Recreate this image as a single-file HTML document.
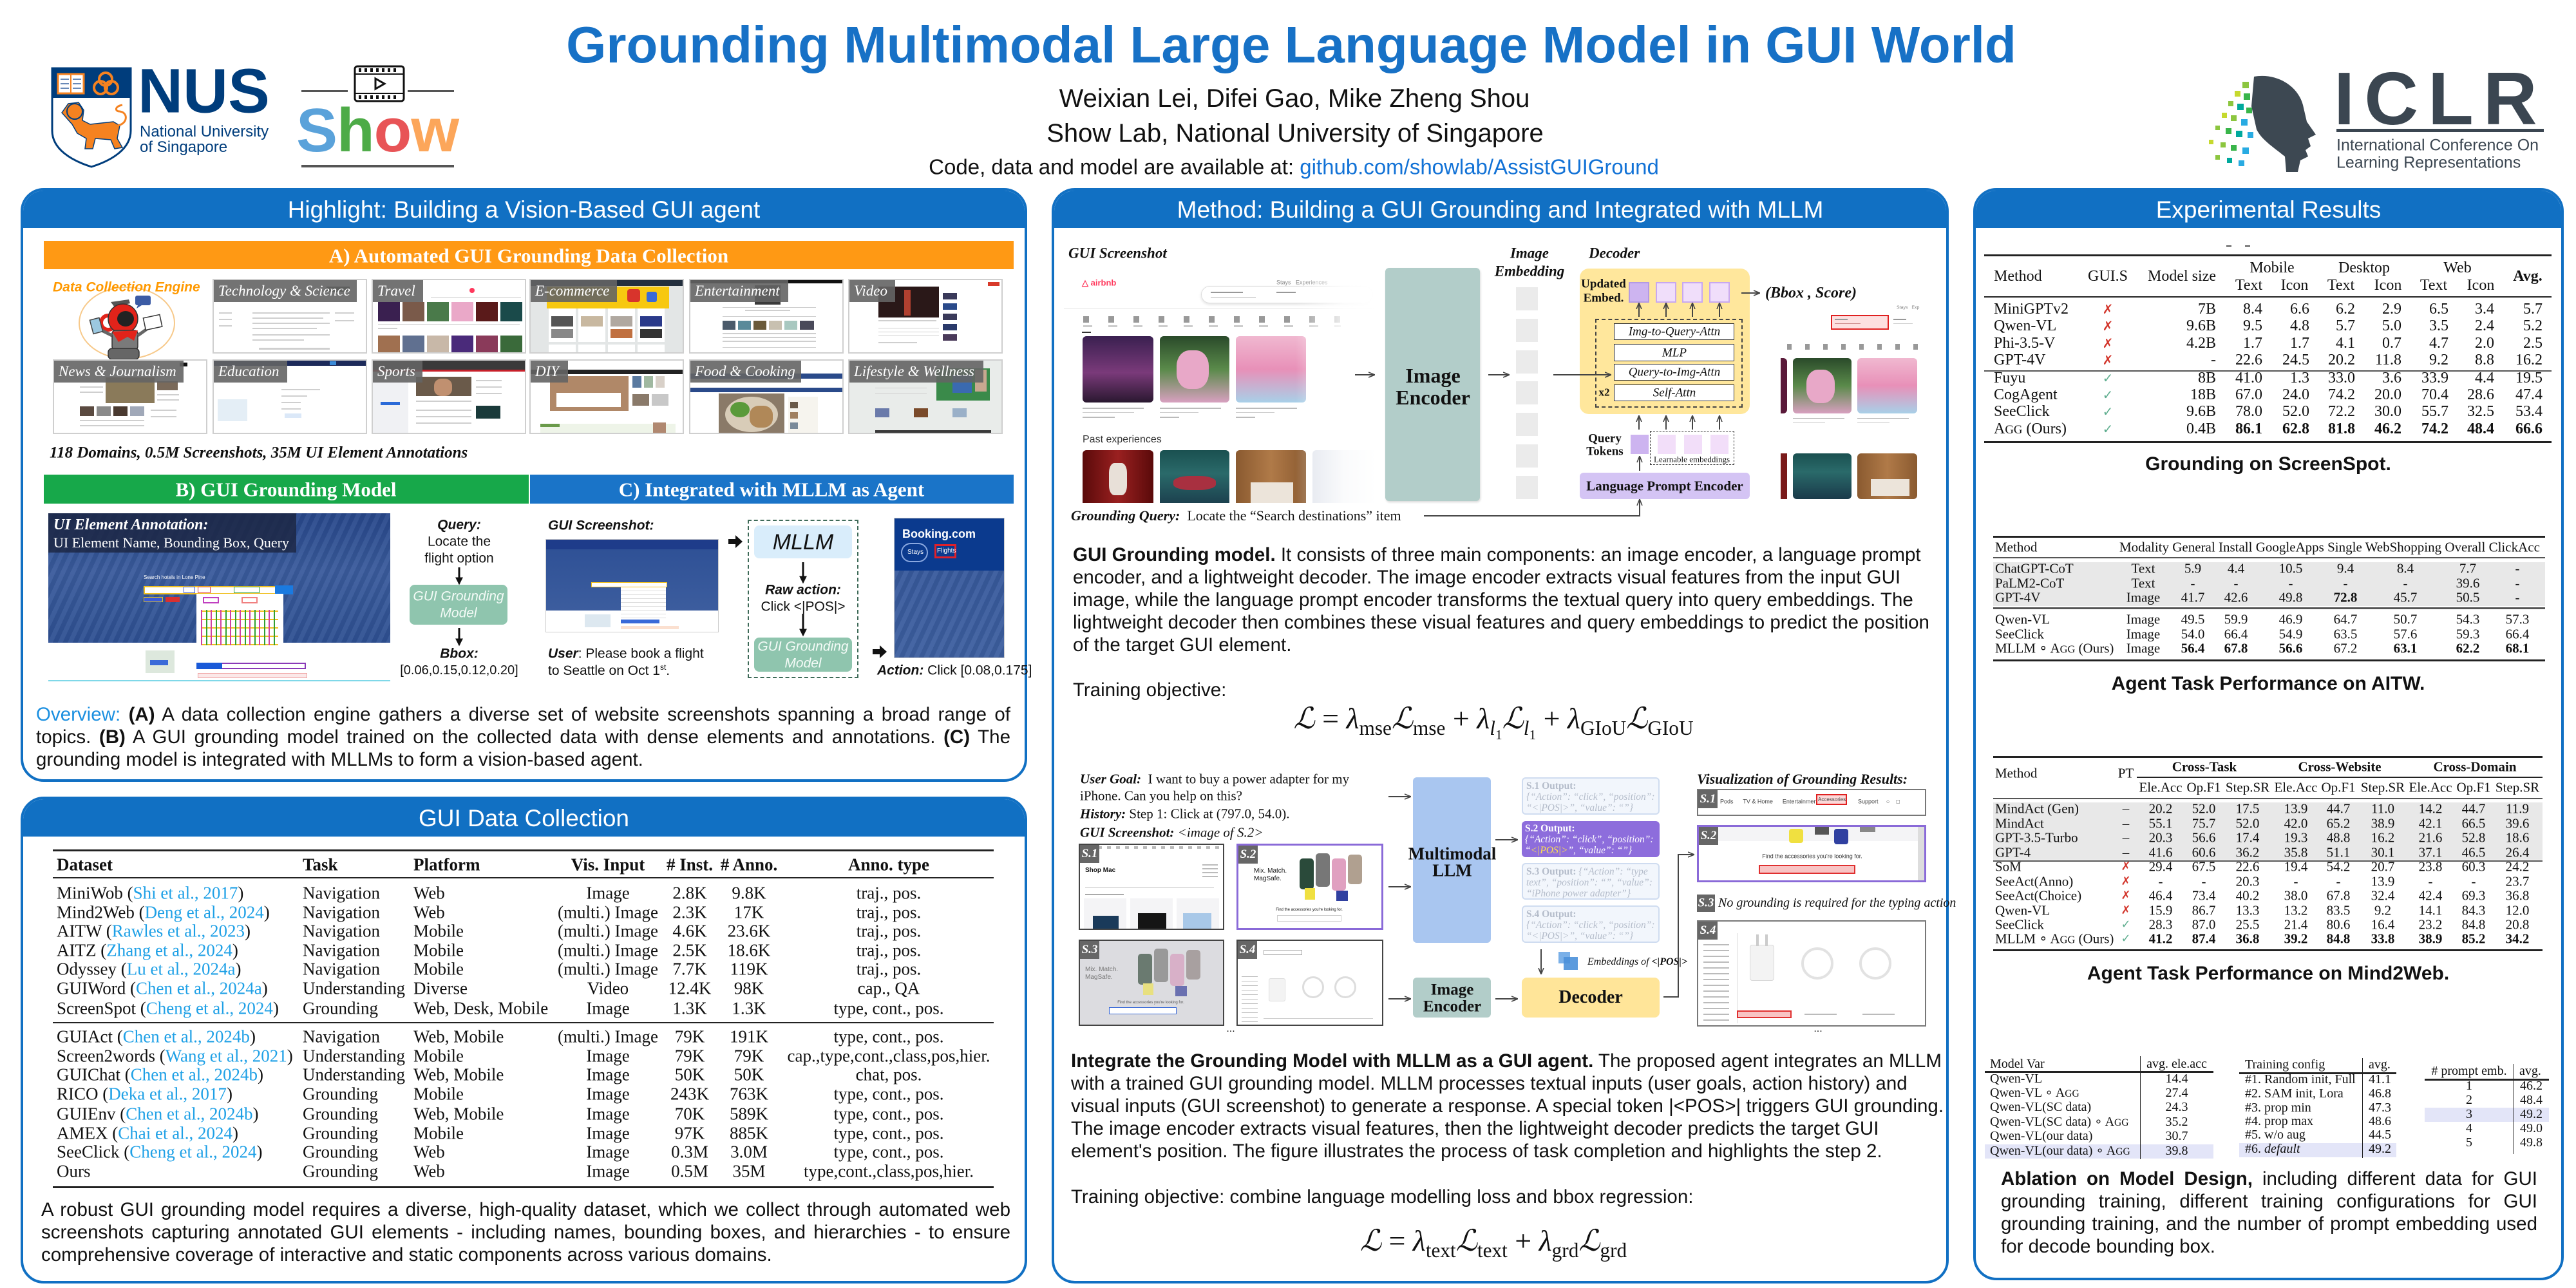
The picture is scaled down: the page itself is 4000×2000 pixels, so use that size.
<!DOCTYPE html>
<html><head><meta charset="utf-8">
<style>
*{box-sizing:border-box}
body{margin:0;width:4000px;height:2000px;position:relative;background:#fff;overflow:hidden;font-family:"Liberation Sans",Arial,sans-serif;color:#111}
.a{position:absolute}
.t{position:absolute;white-space:nowrap;line-height:1}
.c{transform:translate(-50%,-50%)}
.l{transform:translate(0,-50%)}
.r{transform:translate(-100%,-50%)}
.sf{font-family:"Liberation Serif","Times New Roman",serif}
.panel{position:absolute;border:4px solid #1170c3;border-radius:36px;overflow:hidden;background:#fff}
.ph{position:absolute;left:0;top:0;right:0;height:58px;background:#1170c3;color:#fff;font-size:37px;text-align:center;line-height:60px;white-space:nowrap}
.p{position:absolute;white-space:nowrap;font-size:29.5px;line-height:35px;height:35px}
.j{text-align:justify;text-align-last:justify}
.cite{color:#1ea0e6}
.th{position:absolute;background:#fff;border:2px solid #cfcfcf;overflow:hidden}
.lb{position:absolute;left:0;top:0;height:34px;background:rgba(100,100,100,.9);color:#fff;font:italic 23px/34px "Liberation Serif",serif;padding-left:7px;white-space:nowrap}
.b{position:absolute}
.ln{position:absolute;height:2px;background:#cfcfcf}
.rule{position:absolute;background:#222}
.rw{position:absolute;left:0;width:0;height:0}
.g{font-family:"Liberation Serif",serif;font-size:27px}
.s{font-family:"Liberation Serif",serif;font-size:24px}
.u{font-family:"Liberation Serif",serif;font-size:21px}
.v{font-family:"Liberation Serif",serif;font-size:20px}
.x{color:#d2352b;font-family:"DejaVu Sans",sans-serif;font-size:20px}
.ok{color:#5fae8f;font-family:"DejaVu Sans",sans-serif;font-size:20px}
.ob{position:absolute;border-radius:6px;padding:3px 5px;font-family:"Liberation Serif",serif;font-size:15.5px;line-height:17px;white-space:nowrap;overflow:hidden}
.sl{position:absolute;left:0;top:0;width:30px;height:28px;background:#666;color:#fff;font:italic bold 19px/28px "Liberation Serif",serif;text-align:center}
sub{font-size:.68em;vertical-align:-.32em;line-height:0}
</style></head><body>

<!-- ===== HEADER ===== -->
<div class="t c" style="left:2005px;top:70px;font-size:80px;font-weight:bold;color:#1771c6">Grounding Multimodal Large Language Model in GUI World</div>
<div class="t c" style="left:2010px;top:153px;font-size:40px;color:#111">Weixian Lei, Difei Gao, Mike Zheng Shou</div>
<div class="t c" style="left:2011px;top:207px;font-size:40px;color:#111">Show Lab, National University of Singapore</div>
<div class="t c" style="left:2009px;top:259px;font-size:33px;color:#111">Code, data and model are available at: <span style="color:#1272d6">github.com/showlab/AssistGUIGround</span></div>

<!-- NUS logo -->
<svg class="a" style="left:78px;top:103px" width="128" height="158" viewBox="0 0 128 158">
 <path d="M3,3 H125 V100 C125,128 96,146 64,156 C32,146 3,128 3,100 Z" fill="#fff" stroke="#003d7c" stroke-width="3"/>
 <rect x="3" y="3" width="122" height="46" fill="#003d7c"/>
 <rect x="12" y="12" width="40" height="30" fill="#fff" stroke="#f58220" stroke-width="3"/>
 <line x1="32" y1="12" x2="32" y2="42" stroke="#f58220" stroke-width="2"/>
 <g stroke="#6a8ab8" stroke-width="2"><line x1="16" y1="20" x2="29" y2="20"/><line x1="16" y1="27" x2="29" y2="27"/><line x1="16" y1="34" x2="29" y2="34"/><line x1="35" y1="20" x2="48" y2="20"/><line x1="35" y1="27" x2="48" y2="27"/><line x1="35" y1="34" x2="48" y2="34"/></g>
 <g fill="none" stroke="#f58220" stroke-width="4"><circle cx="86" cy="20" r="10"/><circle cx="78" cy="33" r="10"/><circle cx="95" cy="33" r="10"/></g>
 <path d="M18,72 L28,58 L44,56 L52,68 L50,84 L62,90 L98,86 L108,92 L104,112 L112,126 L100,128 L94,114 L70,112 L66,128 L54,128 L56,112 L42,104 L34,90 Z" fill="#f58220" stroke="#003d7c" stroke-width="1.5"/>
 <circle cx="38" cy="70" r="12" fill="#f58220" stroke="#003d7c" stroke-width="2"/>
 <path d="M104,92 C120,90 122,72 108,70 C100,70 100,62 112,60" fill="none" stroke="#f58220" stroke-width="3"/>
</svg>
<div class="t l" style="left:214px;top:141px;font-size:97px;font-weight:bold;color:#003d7c">NUS</div>
<div class="t l" style="left:217px;top:205px;font-size:24px;color:#003d7c">National University</div>
<div class="t l" style="left:217px;top:229px;font-size:24px;color:#003d7c">of Singapore</div>

<!-- Show logo -->
<div class="a" style="left:468px;top:140px;width:72px;height:3px;background:#555"></div>
<div class="a" style="left:633px;top:140px;width:72px;height:3px;background:#555"></div>
<svg class="a" style="left:549px;top:101px" width="80" height="58" viewBox="0 0 80 58">
 <rect x="2" y="2" width="76" height="54" rx="4" fill="#fff" stroke="#111" stroke-width="3"/>
 <line x1="2" y1="14" x2="78" y2="14" stroke="#111" stroke-width="2"/><line x1="2" y1="44" x2="78" y2="44" stroke="#111" stroke-width="2"/>
 <g fill="#111"><rect x="8" y="5" width="4" height="6"/><rect x="17" y="5" width="4" height="6"/><rect x="26" y="5" width="4" height="6"/><rect x="35" y="5" width="4" height="6"/><rect x="44" y="5" width="4" height="6"/><rect x="53" y="5" width="4" height="6"/><rect x="62" y="5" width="4" height="6"/><rect x="8" y="47" width="4" height="6"/><rect x="17" y="47" width="4" height="6"/><rect x="26" y="47" width="4" height="6"/><rect x="35" y="47" width="4" height="6"/><rect x="44" y="47" width="4" height="6"/><rect x="53" y="47" width="4" height="6"/><rect x="62" y="47" width="4" height="6"/></g>
 <path d="M34,21 L48,29 L34,37 Z" fill="none" stroke="#111" stroke-width="3"/>
</svg>
<div class="t l" style="left:460px;top:203px;font-size:96px;font-weight:bold;letter-spacing:-1px"><span style="color:#5aa2da">S</span><span style="color:#4dab47">h</span><span style="color:#e85457">o</span><span style="color:#fca65a">w</span></div>
<div class="a" style="left:468px;top:256px;width:237px;height:4px;background:#555"></div>

<!-- ICLR logo -->
<svg class="a" style="left:3400px;top:105px" width="215" height="165" viewBox="0 0 215 165">
 <path d="M100,14 C135,8 168,28 176,58 L182,84 L196,104 L184,110 L188,122 L180,128 L184,138 L172,144 L168,162 L150,162 L148,138 C128,122 112,112 104,96 L96,60 Z" fill="#3d4852"/>
 <g>
  <rect x="82" y="22" width="10" height="10" fill="#8cc63f"/><rect x="70" y="36" width="9" height="9" fill="#c6d92e"/><rect x="84" y="40" width="10" height="10" fill="#39b54a"/>
  <rect x="60" y="52" width="8" height="8" fill="#8cc63f"/><rect x="74" y="56" width="10" height="10" fill="#00a99d"/><rect x="88" y="62" width="9" height="9" fill="#39b54a"/>
  <rect x="50" y="70" width="8" height="8" fill="#c6d92e"/><rect x="64" y="74" width="9" height="9" fill="#8cc63f"/><rect x="80" y="80" width="10" height="10" fill="#29abe2"/>
  <rect x="40" y="90" width="7" height="7" fill="#8cc63f"/><rect x="56" y="94" width="9" height="9" fill="#39b54a"/><rect x="72" y="98" width="10" height="10" fill="#00a99d"/><rect x="90" y="100" width="9" height="9" fill="#29abe2"/>
  <rect x="30" y="112" width="7" height="7" fill="#c6d92e"/><rect x="48" y="116" width="8" height="8" fill="#8cc63f"/><rect x="64" y="120" width="9" height="9" fill="#39b54a"/><rect x="82" y="124" width="10" height="10" fill="#29abe2"/>
  <rect x="40" y="136" width="7" height="7" fill="#8cc63f"/><rect x="58" y="140" width="8" height="8" fill="#00a99d"/><rect x="76" y="144" width="9" height="9" fill="#29abe2"/>
 </g>
</svg>
<div class="t l" style="left:3624px;top:153px;font-size:116px;font-weight:bold;color:#3b4651;letter-spacing:15px">ICLR</div>
<div class="a" style="left:3628px;top:200px;width:322px;height:5px;background:#3b4651"></div>
<div class="t l" style="left:3628px;top:226px;font-size:25px;color:#3b4651">International Conference On</div>
<div class="t l" style="left:3628px;top:253px;font-size:25px;color:#3b4651">Learning Representations</div>

<!-- ===== PANEL FRAMES ===== -->
<div class="panel" style="left:32px;top:292px;width:1563px;height:922px"><div class="ph">Highlight: Building a Vision-Based GUI agent</div></div>
<div class="panel" style="left:32px;top:1237px;width:1563px;height:756px"><div class="ph">GUI Data Collection</div></div>
<div class="panel" style="left:1633px;top:292px;width:1393px;height:1701px"><div class="ph">Method: Building a GUI Grounding and Integrated with MLLM</div></div>
<div class="panel" style="left:3064px;top:292px;width:917px;height:1696px"><div class="ph">Experimental Results</div></div>

<!-- ===== PANEL 1 : Highlight ===== -->
<div class="a" style="left:68px;top:374px;width:1506px;height:44px;background:#ff9914"></div>
<div class="t c sf" style="left:821px;top:397px;font-size:31px;font-weight:bold;color:#fff">A) Automated GUI Grounding Data Collection</div>

<!-- data collection engine -->
<div class="a" style="left:122px;top:445px;width:150px;height:113px;border:2px solid #f7c98a;border-radius:50%"></div>
<div class="t l" style="left:82px;top:446px;font-size:21px;font-weight:bold;font-style:italic;color:#ff9900">Data Collection Engine</div>
<svg class="a" style="left:128px;top:455px" width="135" height="105" viewBox="0 0 135 105">
 <rect x="82" y="4" width="24" height="15" rx="3" fill="#3b5ba5"/><path d="M86,19 L84,24 L92,19Z" fill="#3b5ba5"/>
 <path d="M44,14 L72,10 L74,16 L50,22 Z" fill="#555"/>
 <circle cx="40" cy="46" r="11" fill="none" stroke="#e2231a" stroke-width="6"/>
 <circle cx="63" cy="40" r="23" fill="#e2231a" stroke="#333" stroke-width="1.5"/>
 <ellipse cx="67" cy="40" rx="13" ry="12" fill="#222"/>
 <rect x="46" y="58" width="40" height="30" rx="5" fill="#7a7a7a" stroke="#333" stroke-width="1.5"/>
 <path d="M46,60 L86,58 L80,74 L70,68 L56,76 Z" fill="#e2231a"/>
 <line x1="86" y1="66" x2="100" y2="56" stroke="#666" stroke-width="5"/>
 <rect x="96" y="36" width="26" height="19" fill="#fff" stroke="#333" stroke-width="1.5" transform="rotate(-12 109 45)"/>
 <line x1="46" y1="66" x2="30" y2="58" stroke="#666" stroke-width="5"/>
 <rect x="14" y="40" width="15" height="22" fill="#9cc8e0" stroke="#444" stroke-width="1.5" transform="rotate(-15 21 51)"/>
 <rect x="40" y="86" width="48" height="17" rx="6" fill="#666" stroke="#333" stroke-width="1.5"/>
</svg>

<!-- thumbnails row 1 -->
<div class="th" style="left:330px;top:433px;width:240px;height:116px">
 <div class="b" style="left:175px;top:10px;width:36px;height:8px;background:#2a3a2a"></div>
 <div class="ln" style="left:60px;top:50px;width:120px"></div><div class="ln" style="left:60px;top:58px;width:110px"></div><div class="ln" style="left:60px;top:66px;width:120px"></div><div class="ln" style="left:60px;top:74px;width:100px"></div><div class="ln" style="left:60px;top:84px;width:120px"></div><div class="ln" style="left:60px;top:92px;width:80px"></div><div class="ln" style="left:8px;top:50px;width:20px"></div><div class="ln" style="left:8px;top:60px;width:20px"></div><div class="ln" style="left:8px;top:70px;width:20px"></div><div class="ln" style="left:188px;top:50px;width:30px"></div><div class="ln" style="left:188px;top:62px;width:30px"></div><div class="ln" style="left:70px;top:105px;width:110px;height:3px"></div>
 <div class="lb" style="width:222px">Technology &amp; Science</div>
</div>
<div class="th" style="left:577px;top:433px;width:240px;height:116px">
 <div class="b" style="left:150px;top:12px;width:8px;height:8px;border-radius:50%;background:#ff385c"></div>
 <div class="ln" style="left:90px;top:26px;width:140px;height:1px"></div>
 <div class="b" style="left:8px;top:34px;width:34px;height:30px;background:#3a2050"></div><div class="b" style="left:46px;top:34px;width:34px;height:30px;background:#7a5a4a"></div><div class="b" style="left:84px;top:34px;width:34px;height:30px;background:#4a7a4a"></div><div class="b" style="left:122px;top:34px;width:34px;height:30px;background:#eaa8c8"></div><div class="b" style="left:160px;top:34px;width:34px;height:30px;background:#5a1a1a"></div><div class="b" style="left:198px;top:34px;width:34px;height:30px;background:#1a4a4a"></div>
 <div class="ln" style="left:8px;top:68px;width:220px;height:1px"></div><div class="ln" style="left:8px;top:74px;width:30px"></div>
 <div class="b" style="left:8px;top:86px;width:34px;height:30px;background:#a07050"></div><div class="b" style="left:46px;top:86px;width:34px;height:30px;background:#607090"></div><div class="b" style="left:84px;top:86px;width:34px;height:30px;background:#c8b8a8"></div><div class="b" style="left:122px;top:86px;width:34px;height:30px;background:#4a2a7a"></div><div class="b" style="left:160px;top:86px;width:34px;height:30px;background:#8a3a5a"></div><div class="b" style="left:198px;top:86px;width:34px;height:30px;background:#3a6a3a"></div>
 <div class="lb" style="width:78px">Travel</div>
</div>
<div class="th" style="left:822px;top:433px;width:240px;height:116px;background:#e3e6e6">
 <div class="b" style="left:0;top:0;width:240px;height:9px;background:#232f3e"></div>
 <div class="b" style="left:25px;top:10px;width:190px;height:34px;background:#f7c810"></div>
 <div class="b" style="left:150px;top:14px;width:20px;height:20px;background:#d8342c;border-radius:4px"></div><div class="b" style="left:180px;top:18px;width:16px;height:16px;background:#3a6ad8;border-radius:3px"></div>
 <div class="b" style="left:28px;top:44px;width:42px;height:52px;background:#fff"></div><div class="b" style="left:74px;top:44px;width:42px;height:52px;background:#fff"></div><div class="b" style="left:120px;top:44px;width:42px;height:52px;background:#fff"></div><div class="b" style="left:166px;top:44px;width:42px;height:52px;background:#fff"></div>
 <div class="b" style="left:32px;top:56px;width:34px;height:16px;background:#555"></div><div class="b" style="left:78px;top:56px;width:34px;height:16px;background:#c8b8a0"></div><div class="b" style="left:124px;top:56px;width:34px;height:16px;background:#b0a8a0"></div><div class="b" style="left:170px;top:56px;width:34px;height:16px;background:#2a3a8a"></div>
 <div class="b" style="left:32px;top:76px;width:34px;height:14px;background:#888"></div><div class="b" style="left:124px;top:76px;width:34px;height:14px;background:#c07040"></div><div class="b" style="left:170px;top:76px;width:34px;height:14px;background:#333"></div>
 <div class="b" style="left:28px;top:100px;width:42px;height:16px;background:#fff"></div><div class="b" style="left:74px;top:100px;width:42px;height:16px;background:#fff"></div><div class="b" style="left:120px;top:100px;width:42px;height:16px;background:#fff"></div><div class="b" style="left:166px;top:100px;width:42px;height:16px;background:#fff"></div>
 <div class="lb" style="width:134px">E-commerce</div>
</div>
<div class="th" style="left:1070px;top:433px;width:240px;height:116px">
 <div class="b" style="left:0;top:0;width:240px;height:5px;background:#111"></div>
 <div class="b" style="left:100px;top:8px;width:40px;height:30px;background:#3a3a3a"></div>
 <div class="ln" style="left:50px;top:42px;width:145px;height:1px"></div><div class="ln" style="left:50px;top:56px;width:145px;height:1px"></div><div class="ln" style="left:85px;top:46px;width:70px"></div>
 <div class="b" style="left:50px;top:63px;width:20px;height:14px;background:#4a5a6a"></div><div class="b" style="left:74px;top:63px;width:20px;height:14px;background:#5a8a9a"></div><div class="b" style="left:98px;top:63px;width:20px;height:14px;background:#6a5a3a"></div><div class="b" style="left:122px;top:63px;width:20px;height:14px;background:#c8c0b0"></div><div class="b" style="left:146px;top:63px;width:20px;height:14px;background:#a8c8c0"></div><div class="b" style="left:170px;top:63px;width:22px;height:14px;background:#4a4a5a"></div>
 <div class="ln" style="left:50px;top:82px;width:145px"></div><div class="ln" style="left:50px;top:88px;width:145px"></div><div class="ln" style="left:50px;top:94px;width:145px"></div><div class="ln" style="left:50px;top:104px;width:145px;height:1px"></div>
 <div class="lb" style="width:152px">Entertainment</div>
</div>
<div class="th" style="left:1317px;top:433px;width:240px;height:116px">
 <div class="b" style="left:45px;top:10px;width:94px;height:48px;background:#2a1818"></div><div class="b" style="left:85px;top:15px;width:10px;height:40px;background:#b04030"></div>
 <div class="b" style="left:145px;top:20px;width:22px;height:10px;background:#3a3a5a"></div><div class="b" style="left:145px;top:36px;width:22px;height:10px;background:#2a4a8a"></div><div class="b" style="left:145px;top:52px;width:22px;height:10px;background:#3a3a5a"></div><div class="b" style="left:145px;top:68px;width:22px;height:10px;background:#2a3a6a"></div><div class="b" style="left:145px;top:84px;width:22px;height:10px;background:#4a3a5a"></div>
 <div class="ln" style="left:45px;top:62px;width:90px"></div><div class="ln" style="left:45px;top:74px;width:94px;height:1px"></div><div class="ln" style="left:45px;top:80px;width:94px;height:1px"></div><div class="ln" style="left:45px;top:86px;width:94px;height:1px"></div><div class="ln" style="left:45px;top:96px;width:60px"></div>
 <div class="b" style="left:215px;top:3px;width:18px;height:6px;background:#d83a2a"></div>
 <div class="lb" style="width:71px">Video</div>
</div>
<!-- thumbnails row 2 -->
<div class="th" style="left:82px;top:558px;width:240px;height:116px">
 <div class="b" style="left:195px;top:3px;width:12px;height:6px;background:#111"></div>
 <div class="b" style="left:80px;top:26px;width:76px;height:40px;background:#8a7a5a"></div><div class="b" style="left:160px;top:32px;width:32px;height:14px;background:#7a6a5a"></div>
 <div class="ln" style="left:40px;top:40px;width:36px"></div><div class="ln" style="left:40px;top:48px;width:36px"></div><div class="ln" style="left:160px;top:52px;width:34px"></div><div class="ln" style="left:160px;top:60px;width:34px"></div>
 <div class="b" style="left:40px;top:71px;width:22px;height:15px;background:#5a4a40"></div><div class="b" style="left:66px;top:71px;width:22px;height:15px;background:#8a8a8a"></div><div class="b" style="left:92px;top:71px;width:22px;height:15px;background:#4a3a30"></div><div class="b" style="left:118px;top:71px;width:22px;height:15px;background:#a0a8b8"></div>
 <div class="ln" style="left:40px;top:92px;width:100px"></div><div class="ln" style="left:40px;top:100px;width:100px"></div><div class="ln" style="left:150px;top:76px;width:40px"></div><div class="ln" style="left:150px;top:86px;width:40px"></div>
 <div class="lb" style="width:201px">News &amp; Journalism</div>
</div>
<div class="th" style="left:330px;top:558px;width:240px;height:116px">
 <div class="b" style="left:0;top:0;width:240px;height:8px;background:#1c2a5a"></div><div class="b" style="left:180px;top:1px;width:10px;height:6px;background:#3a8ad8"></div>
 <div class="b" style="left:6px;top:60px;width:46px;height:34px;background:#e4eef6"></div>
 <div class="ln" style="left:105px;top:44px;width:60px"></div><div class="ln" style="left:105px;top:54px;width:40px"></div><div class="ln" style="left:105px;top:64px;width:30px"></div><div class="ln" style="left:105px;top:74px;width:30px"></div>
 <div class="b" style="left:110px;top:82px;width:26px;height:7px;background:#dbe8f8"></div>
 <div class="lb" style="width:114px">Education</div>
</div>
<div class="th" style="left:577px;top:558px;width:240px;height:116px">
 <div class="b" style="left:0;top:0;width:240px;height:14px;background:#3a3a3a"></div><div class="b" style="left:0;top:14px;width:240px;height:3px;background:#c8202a"></div>
 <div class="b" style="left:0;top:17px;width:55px;height:99px;background:#f0f1f4"></div>
 <div class="b" style="left:67px;top:25px;width:86px;height:30px;background:#6a5a4a"></div><div class="b" style="left:95px;top:28px;width:28px;height:27px;background:#c09070;border-radius:40%"></div>
 <div class="b" style="left:12px;top:64px;width:30px;height:5px;background:#2a6ad8"></div>
 <div class="ln" style="left:160px;top:30px;width:40px"></div><div class="ln" style="left:160px;top:40px;width:40px"></div><div class="ln" style="left:160px;top:50px;width:40px"></div><div class="ln" style="left:67px;top:62px;width:86px"></div><div class="ln" style="left:67px;top:76px;width:86px"></div><div class="ln" style="left:67px;top:86px;width:86px"></div><div class="ln" style="left:67px;top:96px;width:86px"></div>
 <div class="b" style="left:160px;top:70px;width:38px;height:20px;background:#1a3a3a"></div>
 <div class="lb" style="width:77px">Sports</div>
</div>
<div class="th" style="left:822px;top:558px;width:240px;height:116px">
 <div class="b" style="left:0;top:14px;width:240px;height:7px;background:#222"></div>
 <div class="b" style="left:30px;top:24px;width:122px;height:54px;background:#b08868"></div><div class="b" style="left:40px;top:50px;width:100px;height:22px;background:#fff"></div>
 <div class="b" style="left:158px;top:24px;width:14px;height:18px;background:#5a7aa0"></div><div class="b" style="left:176px;top:24px;width:14px;height:18px;background:#a0b8a0"></div><div class="b" style="left:194px;top:24px;width:14px;height:18px;background:#d8d0c8"></div><div class="b" style="left:158px;top:52px;width:26px;height:18px;background:#8a7a6a"></div><div class="b" style="left:188px;top:52px;width:26px;height:18px;background:#c8c8c8"></div>
 <div class="b" style="left:15px;top:98px;width:210px;height:14px;background:#eef4e8"></div><div class="b" style="left:15px;top:98px;width:30px;height:5px;background:#6a9a4a"></div><div class="b" style="left:190px;top:96px;width:20px;height:18px;background:#b08870"></div>
 <div class="lb" style="width:58px">DIY</div>
</div>
<div class="th" style="left:1070px;top:558px;width:240px;height:116px">
 <div class="b" style="left:0;top:20px;width:240px;height:8px;background:#2a4a8a"></div>
 <div class="b" style="left:0;top:42px;width:240px;height:7px;background:#2a4a8a"></div>
 <div class="b" style="left:44px;top:51px;width:102px;height:63px;background:#8a7a68"></div><div class="b" style="left:54px;top:56px;width:82px;height:55px;background:#d8ccb8;border-radius:50%"></div><div class="b" style="left:62px;top:64px;width:30px;height:24px;background:#5a9a3a;border-radius:50%"></div><div class="b" style="left:92px;top:70px;width:36px;height:34px;background:#b08858;border-radius:40%"></div>
 <div class="b" style="left:152px;top:56px;width:46px;height:58px;background:#f6f4ee"></div><div class="b" style="left:155px;top:64px;width:12px;height:10px;background:#6a5a4a"></div><div class="b" style="left:155px;top:80px;width:12px;height:10px;background:#a08060"></div><div class="b" style="left:155px;top:96px;width:12px;height:10px;background:#7a8a9a"></div>
 <div class="lb" style="width:172px">Food &amp; Cooking</div>
</div>
<div class="th" style="left:1317px;top:558px;width:240px;height:116px;background:#e9ecea">
 <div class="b" style="left:135px;top:12px;width:83px;height:50px;background:#3a8a4a"></div><div class="b" style="left:160px;top:22px;width:30px;height:28px;background:#3a6ab0"></div><div class="b" style="left:195px;top:14px;width:18px;height:34px;background:#c8a890"></div>
 <div class="ln" style="left:40px;top:42px;width:80px;height:1px"></div><div class="ln" style="left:40px;top:50px;width:80px;height:1px"></div>
 <div class="b" style="left:40px;top:74px;width:22px;height:14px;background:#6a7aaa"></div><div class="b" style="left:100px;top:74px;width:22px;height:14px;background:#7a4a2a"></div><div class="b" style="left:160px;top:74px;width:22px;height:14px;background:#9ab0c8"></div>
 <div class="b" style="left:40px;top:108px;width:180px;height:8px;background:#3a3a3a"></div>
 <div class="lb" style="width:208px">Lifestyle &amp; Wellness</div>
</div>

<div class="t l sf" style="left:77px;top:703px;font-size:25px;font-weight:bold;font-style:italic">118 Domains, 0.5M Screenshots, 35M UI Element Annotations</div>

<!-- B / C bars -->
<div class="a" style="left:68px;top:737px;width:753px;height:45px;background:#17a84a"></div>
<div class="t c sf" style="left:444px;top:760px;font-size:31px;font-weight:bold;color:#fff">B) GUI Grounding Model</div>
<div class="a" style="left:823px;top:737px;width:751px;height:45px;background:#1a74c8"></div>
<div class="t c sf" style="left:1198px;top:760px;font-size:31px;font-weight:bold;color:#fff">C) Integrated with MLLM as Agent</div>

<!-- B image -->
<div class="a" style="left:75px;top:797px;width:531px;height:261px;background:#fff;overflow:hidden;border-bottom:2px solid #7fd8e8">
 <div class="b" style="left:0;top:0;width:531px;height:201px;background:linear-gradient(180deg,#27478a 0%,#3a5b9c 45%,#2e5092 100%)"></div>
 <div class="b" style="left:0;top:0;width:531px;height:201px;background:repeating-linear-gradient(115deg,rgba(255,255,255,.05) 0 7px,rgba(0,0,0,.05) 7px 14px)"></div>
 <div class="t l" style="left:148px;top:100px;font-size:8px;color:#fff">Search hotels in Lone Pine</div>
 <div class="b" style="left:148px;top:113px;width:232px;height:13px;background:#fff;border:2px solid #f0c020"></div>
 <div class="b" style="left:210px;top:114px;width:18px;height:10px;border:1px solid #3a5ad8"></div><div class="b" style="left:232px;top:114px;width:20px;height:10px;border:1px solid #e04040"></div><div class="b" style="left:288px;top:114px;width:40px;height:10px;border:1px solid #30a040"></div><div class="b" style="left:352px;top:112px;width:28px;height:14px;background:#1a7ae0"></div>
 <div class="b" style="left:148px;top:130px;width:30px;height:8px;border:1px solid #e0c020;background:#3a5ad8"></div><div class="b" style="left:182px;top:130px;width:22px;height:8px;background:#d83030"></div>
 <div class="b" style="left:230px;top:125px;width:135px;height:136px;background:#fff"></div>
 <div class="b" style="left:237px;top:150px;width:120px;height:55px;background:repeating-linear-gradient(90deg,#d040a0 0 2px,transparent 2px 8px,#30a030 8px 10px,transparent 10px 15px),repeating-linear-gradient(0deg,#f0c020 0 2px,#fff 2px 13px)"></div>
 <div class="b" style="left:240px;top:130px;width:25px;height:10px;border:2px solid #c040c0"></div><div class="b" style="left:300px;top:130px;width:25px;height:10px;border:2px solid #f08080"></div>
 <div class="b" style="left:151px;top:213px;width:45px;height:35px;background:#dde8dd"></div><div class="b" style="left:158px;top:228px;width:28px;height:8px;background:#3a6ad8"></div>
 <div class="b" style="left:230px;top:232px;width:170px;height:10px;border:2px solid #8a3ab8"></div><div class="b" style="left:230px;top:232px;width:40px;height:10px;background:#1a5ad8"></div>
 <div class="b" style="left:232px;top:248px;width:170px;height:8px;background:#fbe8e8;border:1px solid #f0a0a0"></div>
 <div class="b" style="left:0;top:0;width:385px;height:61px;background:rgba(28,38,66,.82)"></div>
 <div class="t l sf" style="left:8px;top:18px;font-size:24px;font-weight:bold;font-style:italic;color:#fff">UI Element Annotation:</div>
 <div class="t l sf" style="left:8px;top:46px;font-size:22px;color:#fff">UI Element Name, Bounding Box, Query</div>
</div>

<!-- B query column -->
<div class="t c" style="left:713px;top:815px;font-size:21px;font-weight:bold;font-style:italic">Query:</div>
<div class="t c" style="left:713px;top:841px;font-size:21px">Locate the</div>
<div class="t c" style="left:713px;top:867px;font-size:21px">flight option</div>
<div class="a" style="left:636px;top:908px;width:152px;height:62px;background:#8fc5ae;border-radius:8px"></div>
<div class="t c" style="left:712px;top:926px;font-size:21px;font-style:italic;color:#f4fbf7">GUI Grounding</div>
<div class="t c" style="left:712px;top:952px;font-size:21px;font-style:italic;color:#f4fbf7">Model</div>
<div class="t c" style="left:713px;top:1015px;font-size:21px;font-weight:bold;font-style:italic">Bbox:</div>
<div class="t c" style="left:713px;top:1041px;font-size:20px">[0.06,0.15,0.12,0.20]</div>

<!-- C section -->
<div class="t l" style="left:851px;top:816px;font-size:21px;font-weight:bold;font-style:italic">GUI Screenshot:</div>
<div class="a" style="left:847px;top:837px;width:269px;height:145px;background:#fff;border:1px solid #ccc;overflow:hidden">
 <div class="b" style="left:0;top:0;width:269px;height:15px;background:#1e3c8a"></div>
 <div class="b" style="left:0;top:15px;width:269px;height:95px;background:linear-gradient(180deg,#2f5196,#3c5d9e)"></div>
 <div class="b" style="left:70px;top:66px;width:118px;height:8px;background:#fff;border:1px solid #f0c020"></div>
 <div class="b" style="left:116px;top:74px;width:70px;height:48px;background:#fff;background-image:repeating-linear-gradient(0deg,#ddd 0 1px,transparent 1px 6px)"></div>
 <div class="b" style="left:60px;top:116px;width:40px;height:20px;background:#dde8f0"></div>
 <div class="b" style="left:116px;top:124px;width:60px;height:6px;background:#3a6ad8"></div>
 <div class="b" style="left:116px;top:134px;width:90px;height:5px;background:#fbe0d0"></div>
</div>
<div class="t l" style="left:851px;top:1015px;font-size:21px"><b><i>User</i></b>: Please book a flight</div>
<div class="t l" style="left:851px;top:1041px;font-size:21px">to Seattle on Oct 1<sup style="font-size:12px">st</sup>.</div>
<div class="a" style="left:1161px;top:807px;width:172px;height:246px;border:2px dashed #3e6a58"></div>
<div class="a" style="left:1171px;top:816px;width:152px;height:51px;background:#d9edfb;border-radius:8px"></div>
<div class="t c" style="left:1247px;top:842px;font-size:34px;font-style:italic">MLLM</div>
<div class="t c" style="left:1247px;top:916px;font-size:21px;font-weight:bold;font-style:italic">Raw action:</div>
<div class="t c" style="left:1247px;top:942px;font-size:21px">Click &lt;|POS|&gt;</div>
<div class="a" style="left:1171px;top:990px;width:152px;height:53px;background:#8fc5ae;border-radius:8px"></div>
<div class="t c" style="left:1247px;top:1004px;font-size:21px;font-style:italic;color:#f4fbf7">GUI Grounding</div>
<div class="t c" style="left:1247px;top:1030px;font-size:21px;font-style:italic;color:#f4fbf7">Model</div>
<div class="a" style="left:1388px;top:804px;width:172px;height:218px;overflow:hidden;background:linear-gradient(180deg,#34569a,#3d5f9f);border:1px solid #ccc">
 <div class="b" style="left:0;top:0;width:172px;height:81px;background:#0b3a8e"></div>
 <div class="t l" style="left:12px;top:24px;font-size:18px;font-weight:bold;color:#fff">Booking.com</div>
 <div class="b" style="left:10px;top:38px;width:42px;height:30px;border:2px solid #8aa8e0;border-radius:15px"></div>
 <div class="t l" style="left:20px;top:53px;font-size:10px;color:#fff">Stays</div>
 <div class="b" style="left:62px;top:40px;width:34px;height:22px;border:3px solid #e0202a"></div>
 <div class="t l" style="left:66px;top:51px;font-size:10px;color:#fff">Flights</div>
 <div class="b" style="left:0;top:81px;width:172px;height:137px;background:repeating-linear-gradient(115deg,rgba(255,255,255,.05) 0 7px,rgba(0,0,0,.05) 7px 14px)"></div>
</div>
<div class="t l" style="left:1362px;top:1041px;font-size:21px"><b><i>Action:</i></b> Click [0.08,0.175]</div>

<!-- overview -->
<div class="p j" style="left:56px;top:1092px;width:1513px"><span style="color:#1a8fe0">Overview:</span> <b>(A)</b> A data collection engine gathers a diverse set of website screenshots spanning a broad range of</div>
<div class="p j" style="left:56px;top:1127px;width:1513px">topics. <b>(B)</b> A GUI grounding model trained on the collected data with dense elements and annotations. <b>(C)</b> The</div>
<div class="p" style="left:56px;top:1162px">grounding model is integrated with MLLMs to form a vision-based agent.</div>

<!-- ===== PANEL 1b: GUI Data Collection table ===== -->
<div class="rule" style="left:82px;top:1319px;width:1461px;height:3px"></div>
<div class="rule" style="left:82px;top:1362px;width:1461px;height:2px"></div>
<div class="rule" style="left:82px;top:1587px;width:1461px;height:2px"></div>
<div class="rule" style="left:82px;top:1842px;width:1461px;height:3px"></div>
<div class="rw" style="top:1343px;font-weight:bold">
 <span class="t l g" style="left:88px">Dataset</span><span class="t l g" style="left:470px">Task</span><span class="t l g" style="left:642px">Platform</span><span class="t c g" style="left:944px">Vis. Input</span><span class="t c g" style="left:1071px"># Inst.</span><span class="t c g" style="left:1163px"># Anno.</span><span class="t c g" style="left:1380px">Anno. type</span>
</div>
<div class="rw" style="top:1387px"><span class="t l g" style="left:88px">MiniWob (<span class="cite">Shi et al., 2017</span>)</span><span class="t l g" style="left:470px">Navigation</span><span class="t l g" style="left:642px">Web</span><span class="t c g" style="left:944px">Image</span><span class="t c g" style="left:1071px">2.8K</span><span class="t c g" style="left:1163px">9.8K</span><span class="t c g" style="left:1380px">traj., pos.</span></div>
<div class="rw" style="top:1417px"><span class="t l g" style="left:88px">Mind2Web (<span class="cite">Deng et al., 2024</span>)</span><span class="t l g" style="left:470px">Navigation</span><span class="t l g" style="left:642px">Web</span><span class="t c g" style="left:944px">(multi.) Image</span><span class="t c g" style="left:1071px">2.3K</span><span class="t c g" style="left:1163px">17K</span><span class="t c g" style="left:1380px">traj., pos.</span></div>
<div class="rw" style="top:1446px"><span class="t l g" style="left:88px">AITW (<span class="cite">Rawles et al., 2023</span>)</span><span class="t l g" style="left:470px">Navigation</span><span class="t l g" style="left:642px">Mobile</span><span class="t c g" style="left:944px">(multi.) Image</span><span class="t c g" style="left:1071px">4.6K</span><span class="t c g" style="left:1163px">23.6K</span><span class="t c g" style="left:1380px">traj., pos.</span></div>
<div class="rw" style="top:1476px"><span class="t l g" style="left:88px">AITZ (<span class="cite">Zhang et al., 2024</span>)</span><span class="t l g" style="left:470px">Navigation</span><span class="t l g" style="left:642px">Mobile</span><span class="t c g" style="left:944px">(multi.) Image</span><span class="t c g" style="left:1071px">2.5K</span><span class="t c g" style="left:1163px">18.6K</span><span class="t c g" style="left:1380px">traj., pos.</span></div>
<div class="rw" style="top:1505px"><span class="t l g" style="left:88px">Odyssey (<span class="cite">Lu et al., 2024a</span>)</span><span class="t l g" style="left:470px">Navigation</span><span class="t l g" style="left:642px">Mobile</span><span class="t c g" style="left:944px">(multi.) Image</span><span class="t c g" style="left:1071px">7.7K</span><span class="t c g" style="left:1163px">119K</span><span class="t c g" style="left:1380px">traj., pos.</span></div>
<div class="rw" style="top:1535px"><span class="t l g" style="left:88px">GUIWord (<span class="cite">Chen et al., 2024a</span>)</span><span class="t l g" style="left:470px">Understanding</span><span class="t l g" style="left:642px">Diverse</span><span class="t c g" style="left:944px">Video</span><span class="t c g" style="left:1071px">12.4K</span><span class="t c g" style="left:1163px">98K</span><span class="t c g" style="left:1380px">cap., QA</span></div>
<div class="rw" style="top:1566px"><span class="t l g" style="left:88px">ScreenSpot (<span class="cite">Cheng et al., 2024</span>)</span><span class="t l g" style="left:470px">Grounding</span><span class="t l g" style="left:642px">Web, Desk, Mobile</span><span class="t c g" style="left:944px">Image</span><span class="t c g" style="left:1071px">1.3K</span><span class="t c g" style="left:1163px">1.3K</span><span class="t c g" style="left:1380px">type, cont., pos.</span></div>
<div class="rw" style="top:1610px"><span class="t l g" style="left:88px">GUIAct (<span class="cite">Chen et al., 2024b</span>)</span><span class="t l g" style="left:470px">Navigation</span><span class="t l g" style="left:642px">Web, Mobile</span><span class="t c g" style="left:944px">(multi.) Image</span><span class="t c g" style="left:1071px">79K</span><span class="t c g" style="left:1163px">191K</span><span class="t c g" style="left:1380px">type, cont., pos.</span></div>
<div class="rw" style="top:1640px"><span class="t l g" style="left:88px">Screen2words (<span class="cite">Wang et al., 2021</span>)</span><span class="t l g" style="left:470px">Understanding</span><span class="t l g" style="left:642px">Mobile</span><span class="t c g" style="left:944px">Image</span><span class="t c g" style="left:1071px">79K</span><span class="t c g" style="left:1163px">79K</span><span class="t c g" style="left:1380px">cap.,type,cont.,class,pos,hier.</span></div>
<div class="rw" style="top:1669px"><span class="t l g" style="left:88px">GUIChat (<span class="cite">Chen et al., 2024b</span>)</span><span class="t l g" style="left:470px">Understanding</span><span class="t l g" style="left:642px">Web, Mobile</span><span class="t c g" style="left:944px">Image</span><span class="t c g" style="left:1071px">50K</span><span class="t c g" style="left:1163px">50K</span><span class="t c g" style="left:1380px">chat, pos.</span></div>
<div class="rw" style="top:1699px"><span class="t l g" style="left:88px">RICO (<span class="cite">Deka et al., 2017</span>)</span><span class="t l g" style="left:470px">Grounding</span><span class="t l g" style="left:642px">Mobile</span><span class="t c g" style="left:944px">Image</span><span class="t c g" style="left:1071px">243K</span><span class="t c g" style="left:1163px">763K</span><span class="t c g" style="left:1380px">type, cont., pos.</span></div>
<div class="rw" style="top:1730px"><span class="t l g" style="left:88px">GUIEnv (<span class="cite">Chen et al., 2024b</span>)</span><span class="t l g" style="left:470px">Grounding</span><span class="t l g" style="left:642px">Web, Mobile</span><span class="t c g" style="left:944px">Image</span><span class="t c g" style="left:1071px">70K</span><span class="t c g" style="left:1163px">589K</span><span class="t c g" style="left:1380px">type, cont., pos.</span></div>
<div class="rw" style="top:1760px"><span class="t l g" style="left:88px">AMEX (<span class="cite">Chai et al., 2024</span>)</span><span class="t l g" style="left:470px">Grounding</span><span class="t l g" style="left:642px">Mobile</span><span class="t c g" style="left:944px">Image</span><span class="t c g" style="left:1071px">97K</span><span class="t c g" style="left:1163px">885K</span><span class="t c g" style="left:1380px">type, cont., pos.</span></div>
<div class="rw" style="top:1789px"><span class="t l g" style="left:88px">SeeClick (<span class="cite">Cheng et al., 2024</span>)</span><span class="t l g" style="left:470px">Grounding</span><span class="t l g" style="left:642px">Web</span><span class="t c g" style="left:944px">Image</span><span class="t c g" style="left:1071px">0.3M</span><span class="t c g" style="left:1163px">3.0M</span><span class="t c g" style="left:1380px">type, cont., pos.</span></div>
<div class="rw" style="top:1819px"><span class="t l g" style="left:88px">Ours</span><span class="t l g" style="left:470px">Grounding</span><span class="t l g" style="left:642px">Web</span><span class="t c g" style="left:944px">Image</span><span class="t c g" style="left:1071px">0.5M</span><span class="t c g" style="left:1163px">35M</span><span class="t c g" style="left:1380px">type,cont.,class,pos,hier.</span></div>

<div class="p j" style="left:64px;top:1861px;width:1505px">A robust GUI grounding model requires a diverse, high-quality dataset, which we collect through automated web</div>
<div class="p j" style="left:64px;top:1896px;width:1505px">screenshots capturing annotated GUI elements - including names, bounding boxes, and hierarchies - to ensure</div>
<div class="p" style="left:64px;top:1931px">comprehensive coverage of interactive and static components across various domains.</div>

<!-- ===== PANEL 2: Method ===== -->
<div class="t l sf" style="left:1659px;top:393px;font-size:23px;font-weight:bold;font-style:italic">GUI Screenshot</div>
<!-- airbnb screenshot -->
<div class="a" style="left:1652px;top:419px;width:485px;height:362px;overflow:hidden;background:#fff">
 <div class="t l" style="left:28px;top:20px;font-size:13px;color:#ff385c;font-weight:bold">&#9651; airbnb</div>
 <div class="t l" style="left:330px;top:20px;font-size:9px;color:#888">Stays &nbsp; Experiences</div>
 <div class="b" style="left:213px;top:25px;width:267px;height:27px;border:1px solid #ddd;border-radius:14px;box-shadow:0 2px 4px rgba(0,0,0,.12)"></div>
 <div class="ln" style="left:228px;top:34px;width:50px;height:2px;background:#999"></div><div class="ln" style="left:228px;top:42px;width:70px;height:1px;background:#bbb"></div><div class="ln" style="left:330px;top:34px;width:30px;height:2px;background:#999"></div>
 <div class="b" style="left:0;top:60px;width:485px;height:1px;background:#e6e6e6"></div>
 <div class="b" style="left:30px;top:72px;width:400px;height:10px;background:repeating-linear-gradient(90deg,#999 0 9px,transparent 9px 39px)"></div>
 <div class="b" style="left:30px;top:86px;width:400px;height:3px;background:repeating-linear-gradient(90deg,#ccc 0 14px,transparent 14px 39px)"></div>
 <div class="b" style="left:28px;top:96px;width:14px;height:2px;background:#333"></div>
 <div class="b" style="left:29px;top:103px;width:110px;height:103px;border-radius:6px;background:linear-gradient(180deg,#3a2050,#7a3a7a 55%,#2a1830)"></div>
 <div class="b" style="left:149px;top:103px;width:108px;height:103px;border-radius:6px;background:linear-gradient(180deg,#2a4a2a,#5a8a4a 50%,#d8a0c0)"></div>
 <div class="b" style="left:175px;top:125px;width:50px;height:60px;border-radius:40%;background:#e8a8c8"></div>
 <div class="b" style="left:267px;top:103px;width:109px;height:103px;border-radius:6px;background:linear-gradient(180deg,#f0b8d0,#e890b8 50%,#a8d0e8)"></div>
 <div class="ln" style="left:29px;top:214px;width:95px;height:2px;background:#bbb"></div><div class="ln" style="left:29px;top:221px;width:80px;height:1px"></div><div class="ln" style="left:29px;top:228px;width:50px;height:2px;background:#bbb"></div>
 <div class="ln" style="left:149px;top:214px;width:95px;height:2px;background:#bbb"></div><div class="ln" style="left:149px;top:221px;width:60px;height:1px"></div><div class="ln" style="left:149px;top:228px;width:30px;height:2px;background:#bbb"></div>
 <div class="ln" style="left:267px;top:214px;width:95px;height:2px;background:#bbb"></div><div class="ln" style="left:267px;top:221px;width:60px;height:1px"></div><div class="ln" style="left:267px;top:228px;width:30px;height:2px;background:#bbb"></div>
 <div class="t l" style="left:29px;top:264px;font-size:16px;color:#333">Past experiences</div>
 <div class="b" style="left:29px;top:280px;width:110px;height:90px;border-radius:6px;background:linear-gradient(90deg,#5a0a0a,#9a2020 50%,#5a0a0a)"></div><div class="b" style="left:70px;top:300px;width:28px;height:50px;background:#e8e0d8;border-radius:30%"></div>
 <div class="b" style="left:149px;top:280px;width:108px;height:90px;border-radius:6px;background:linear-gradient(180deg,#1a5050,#2a6a6a 40%,#1a3a4a)"></div><div class="b" style="left:170px;top:320px;width:66px;height:22px;background:#a83040;border-radius:40%"></div>
 <div class="b" style="left:267px;top:280px;width:109px;height:90px;border-radius:6px;background:linear-gradient(90deg,#8a5a30,#b07a48,#8a5a30)"></div><div class="b" style="left:290px;top:330px;width:66px;height:32px;background:#ece4da"></div>
 <div class="b" style="left:386px;top:280px;width:109px;height:90px;border-radius:6px;background:#dfe3ec"></div>
 <div class="b" style="left:360px;top:0;width:125px;height:362px;background:linear-gradient(90deg,rgba(255,255,255,0),rgba(255,255,255,.85) 60%,#fff)"></div>
</div>

<div class="a" style="left:2151px;top:416px;width:147px;height:362px;background:#b2cdc9;border-radius:6px;box-shadow:1px 2px 3px rgba(0,0,0,.15)"></div>
<div class="t c sf" style="left:2225px;top:583px;font-size:32px;font-weight:bold">Image</div>
<div class="t c sf" style="left:2225px;top:617px;font-size:32px;font-weight:bold">Encoder</div>
<div class="t c sf" style="left:2375px;top:393px;font-size:23px;font-weight:bold;font-style:italic">Image</div>
<div class="t c sf" style="left:2375px;top:421px;font-size:23px;font-weight:bold;font-style:italic">Embedding</div>
<div class="a" style="left:2354px;top:446px;width:34px;height:36px;background:#ebebeb"></div>
<div class="a" style="left:2354px;top:495px;width:34px;height:36px;background:#ebebeb"></div>
<div class="a" style="left:2354px;top:544px;width:34px;height:36px;background:#ebebeb"></div>
<div class="a" style="left:2354px;top:592px;width:34px;height:36px;background:#ebebeb"></div>
<div class="a" style="left:2354px;top:641px;width:34px;height:36px;background:#ebebeb"></div>
<div class="a" style="left:2354px;top:690px;width:34px;height:36px;background:#ebebeb"></div>
<div class="a" style="left:2354px;top:739px;width:34px;height:36px;background:#ebebeb"></div>
<div class="t l sf" style="left:2467px;top:393px;font-size:23px;font-weight:bold;font-style:italic">Decoder</div>
<div class="a" style="left:2453px;top:417px;width:264px;height:226px;background:#ffe79c;border-radius:14px"></div>
<div class="t c sf" style="left:2490px;top:441px;font-size:19px;font-weight:bold">Updated</div>
<div class="t c sf" style="left:2490px;top:463px;font-size:19px;font-weight:bold">Embed.</div>
<div class="a" style="left:2529px;top:438px;width:32px;height:32px;background:#cdb4f0;border:2px solid #b49ae4"></div>
<div class="a" style="left:2571px;top:438px;width:32px;height:32px;background:#f0defa;border:2px solid #c8a8f0"></div>
<div class="a" style="left:2612px;top:438px;width:32px;height:32px;background:#f0defa;border:2px solid #c8a8f0"></div>
<div class="a" style="left:2654px;top:438px;width:32px;height:32px;background:#f0defa;border:2px solid #c8a8f0"></div>
<div class="t l sf" style="left:2741px;top:455px;font-size:24px;font-weight:bold;font-style:italic">(Bbox , Score)</div>
<div class="a" style="left:2477px;top:495px;width:229px;height:138px;border:2px dashed #444"></div>
<div class="a" style="left:2506px;top:502px;width:187px;height:26px;background:#fff;border:1.5px solid #333"></div>
<div class="a" style="left:2506px;top:534px;width:187px;height:27px;background:#fff;border:1.5px solid #333"></div>
<div class="a" style="left:2506px;top:565px;width:187px;height:26px;background:#fff;border:1.5px solid #333"></div>
<div class="a" style="left:2506px;top:597px;width:187px;height:26px;background:#fff;border:1.5px solid #333"></div>
<div class="t c sf" style="left:2600px;top:515px;font-size:19px;font-style:italic">Img-to-Query-Attn</div>
<div class="t c sf" style="left:2600px;top:548px;font-size:19px;font-style:italic">MLP</div>
<div class="t c sf" style="left:2600px;top:578px;font-size:19px;font-style:italic">Query-to-Img-Attn</div>
<div class="t c sf" style="left:2600px;top:610px;font-size:19px;font-style:italic">Self-Attn</div>
<div class="t c sf" style="left:2491px;top:609px;font-size:17px;font-weight:bold">x2</div>
<div class="t c sf" style="left:2492px;top:681px;font-size:19px;font-weight:bold">Query</div>
<div class="t c sf" style="left:2492px;top:701px;font-size:19px;font-weight:bold">Tokens</div>
<div class="a" style="left:2532px;top:675px;width:28px;height:30px;background:#cdb4f0"></div>
<div class="a" style="left:2562px;top:669px;width:131px;height:53px;border:1.5px dashed #333"></div>
<div class="a" style="left:2574px;top:675px;width:28px;height:30px;background:#f2def9"></div>
<div class="a" style="left:2615px;top:675px;width:28px;height:30px;background:#f2def9"></div>
<div class="a" style="left:2656px;top:675px;width:28px;height:30px;background:#f2def9"></div>
<div class="t c sf" style="left:2627px;top:713px;font-size:13px">Learnable embeddings</div>
<div class="a" style="left:2453px;top:734px;width:264px;height:41px;background:#d4c4f4;border-radius:6px"></div>
<div class="t c sf" style="left:2585px;top:755px;font-size:21px;font-weight:bold">Language Prompt Encoder</div>
<div class="t l sf" style="left:1663px;top:801px;font-size:22px"><b><i>Grounding Query:</i></b>&nbsp; Locate the “Search destinations” item</div>

<!-- right screenshot -->
<div class="a" style="left:2765px;top:474px;width:221px;height:301px;overflow:hidden;background:#fff">
 <div class="t l" style="left:180px;top:4px;font-size:7px;color:#888">Stays &nbsp; Exp</div>
 <div class="b" style="left:78px;top:15px;width:90px;height:23px;background:#fde0e0;border:2px solid #e02020"></div>
 <div class="ln" style="left:84px;top:21px;width:20px;height:2px;background:#999"></div><div class="ln" style="left:84px;top:28px;width:40px;height:1px;background:#c88"></div>
 <div class="ln" style="left:175px;top:21px;width:20px;height:2px;background:#999"></div><div class="ln" style="left:175px;top:28px;width:30px;height:1px"></div>
 <div class="b" style="left:10px;top:60px;width:205px;height:9px;background:repeating-linear-gradient(90deg,#999 0 7px,transparent 7px 28px)"></div>
 <div class="b" style="left:0;top:82px;width:10px;height:86px;background:#5a1a3a;border-radius:0 6px 6px 0"></div>
 <div class="b" style="left:19px;top:82px;width:91px;height:86px;border-radius:6px;background:linear-gradient(180deg,#2a4a2a,#5a8a4a 50%,#d8a0c0)"></div>
 <div class="b" style="left:40px;top:100px;width:44px;height:52px;border-radius:40%;background:#e8a8c8"></div>
 <div class="b" style="left:119px;top:82px;width:93px;height:86px;border-radius:6px;background:linear-gradient(180deg,#f0b8d0,#e890b8 50%,#a8d0e8)"></div>
 <div class="ln" style="left:19px;top:175px;width:80px;height:1px;background:#aaa"></div><div class="ln" style="left:19px;top:182px;width:50px;height:1px"></div><div class="ln" style="left:119px;top:175px;width:80px;height:1px;background:#aaa"></div><div class="ln" style="left:119px;top:182px;width:50px;height:1px"></div>
 <div class="b" style="left:0;top:230px;width:10px;height:71px;background:#7a1a1a"></div>
 <div class="b" style="left:19px;top:230px;width:91px;height:71px;border-radius:6px;background:linear-gradient(180deg,#1a5050,#2a6a6a 40%,#1a3a4a)"></div>
 <div class="b" style="left:119px;top:230px;width:93px;height:71px;border-radius:6px;background:linear-gradient(90deg,#8a5a30,#b07a48,#8a5a30)"></div>
 <div class="b" style="left:140px;top:270px;width:60px;height:26px;background:#ece4da"></div>
</div>

<div class="p" style="left:1666px;top:844px"><b>GUI Grounding model.</b> It consists of three main components: an image encoder, a language prompt</div>
<div class="p" style="left:1666px;top:879px">encoder, and a lightweight decoder. The image encoder extracts visual features from the input GUI</div>
<div class="p" style="left:1666px;top:914px">image, while the language prompt encoder transforms the textual query into query embeddings. The</div>
<div class="p" style="left:1666px;top:949px">lightweight decoder then combines these visual features and query embeddings to predict the position</div>
<div class="p" style="left:1666px;top:984px">of the target GUI element.</div>
<div class="p" style="left:1666px;top:1054px">Training objective:</div>
<div class="t c sf" style="left:2319px;top:1117px;font-size:46px"><i>ℒ</i> = <i>λ</i><sub>mse</sub><i>ℒ</i><sub>mse</sub> + <i>λ</i><sub><i>l</i><sub>1</sub></sub><i>ℒ</i><sub><i>l</i><sub>1</sub></sub> + <i>λ</i><sub>GIoU</sub><i>ℒ</i><sub>GIoU</sub></div>

<!-- figure 2 -->
<div class="t l sf" style="left:1677px;top:1210px;font-size:21px"><b><i>User Goal:</i></b>&nbsp; I want to buy a power adapter for my</div>
<div class="t l sf" style="left:1677px;top:1236px;font-size:21px">iPhone. Can you help on this?</div>
<div class="t l sf" style="left:1677px;top:1264px;font-size:21px"><b><i>History:</i></b> Step 1: Click at (797.0, 54.0).</div>
<div class="t l sf" style="left:1677px;top:1293px;font-size:21px"><b><i>GUI Screenshot:</i></b> <i>&lt;image of S.2&gt;</i></div>

<div class="a" style="left:1675px;top:1310px;width:226px;height:134px;background:#fff;border:2px solid #444;overflow:hidden">
 <div class="t l" style="left:8px;top:40px;font-size:10px;font-weight:bold">Shop Mac</div>
 <div class="b" style="left:0;top:2px;width:226px;height:4px;background:repeating-linear-gradient(90deg,#bbb 0 6px,transparent 6px 14px)"></div>
 <div class="ln" style="left:8px;top:66px;width:200px;height:1px;background:#ccc"></div><div class="ln" style="left:8px;top:76px;width:60px;height:2px;background:#aaa"></div>
 <div class="b" style="left:190px;top:30px;width:24px;height:20px;background:repeating-linear-gradient(0deg,#bbb 0 2px,transparent 2px 6px)"></div>
 <div class="b" style="left:6px;top:83px;width:66px;height:51px;background:#f4f4f6"></div><div class="b" style="left:78px;top:83px;width:66px;height:51px;background:#f4f4f6"></div><div class="b" style="left:150px;top:83px;width:66px;height:51px;background:#f4f4f6"></div>
 <div class="b" style="left:20px;top:110px;width:40px;height:24px;background:#1a3a5a"></div><div class="b" style="left:90px;top:106px;width:44px;height:28px;background:#151515"></div><div class="b" style="left:160px;top:106px;width:44px;height:28px;background:#a8c8e8"></div>
 <div class="sl">S.1</div>
</div>
<div class="a" style="left:1920px;top:1310px;width:228px;height:134px;background:#fff;border:3px solid #8a6ad8;overflow:hidden">
 <div class="t l" style="left:24px;top:40px;font-size:10px">Mix. Match.</div><div class="t l" style="left:24px;top:52px;font-size:10px">MagSafe.</div>
 <div class="b" style="left:95px;top:20px;width:22px;height:48px;background:#2a4a3a;border-radius:5px"></div><div class="b" style="left:120px;top:12px;width:22px;height:52px;background:#777;border-radius:5px"></div><div class="b" style="left:145px;top:20px;width:22px;height:50px;background:#e0a0c0;border-radius:5px"></div><div class="b" style="left:170px;top:14px;width:22px;height:46px;background:#b0a090;border-radius:5px"></div>
 <div class="b" style="left:103px;top:66px;width:16px;height:18px;background:#f0e040"></div><div class="b" style="left:152px;top:70px;width:18px;height:16px;background:#3040a0"></div>
 <div class="t c" style="left:110px;top:100px;font-size:6px">Find the accessories you're looking for.</div>
 <div class="b" style="left:60px;top:108px;width:100px;height:10px;border:1px solid #ccc"></div>
 <div class="sl">S.2</div>
</div>
<div class="a" style="left:1675px;top:1459px;width:226px;height:134px;background:#dcdce0;border:2px solid #444;overflow:hidden">
 <div class="t l" style="left:8px;top:45px;font-size:10px;color:#777">Mix. Match.</div><div class="t l" style="left:8px;top:57px;font-size:10px;color:#777">MagSafe.</div>
 <div class="b" style="left:90px;top:20px;width:22px;height:48px;background:#6a7a70;border-radius:5px"></div><div class="b" style="left:115px;top:12px;width:22px;height:52px;background:#999;border-radius:5px"></div><div class="b" style="left:140px;top:20px;width:22px;height:50px;background:#d8b0c8;border-radius:5px"></div><div class="b" style="left:165px;top:14px;width:22px;height:46px;background:#a8a0a0;border-radius:5px"></div>
 <div class="b" style="left:98px;top:66px;width:16px;height:18px;background:#e8e080"></div><div class="b" style="left:148px;top:70px;width:18px;height:16px;background:#6a70b0"></div>
 <div class="t c" style="left:110px;top:96px;font-size:6px;color:#555">Find the accessories you're looking for.</div>
 <div class="b" style="left:45px;top:103px;width:105px;height:11px;background:#fff;border:1px solid #3a6ad8"></div>
 <div class="sl">S.3</div>
</div>
<div class="a" style="left:1920px;top:1459px;width:228px;height:134px;background:#fff;border:2px solid #444;overflow:hidden">
 <div class="b" style="left:40px;top:14px;width:60px;height:8px;border:1px solid #aaa"></div>
 <div class="b" style="left:6px;top:50px;width:25px;height:76px;background:repeating-linear-gradient(0deg,#bbb 0 1px,transparent 1px 7px)"></div>
 <div class="b" style="left:48px;top:58px;width:26px;height:36px;background:#f3f3f3;border:1px solid #ddd;border-radius:3px"></div>
 <div class="b" style="left:100px;top:55px;width:34px;height:34px;border:3px solid #ddd;border-radius:50%"></div>
 <div class="b" style="left:150px;top:55px;width:34px;height:34px;border:3px solid #ddd;border-radius:50%"></div>
 <div class="ln" style="left:40px;top:120px;width:170px;height:1px"></div>
 <div class="sl">S.4</div>
</div>
<div class="t c" style="left:1911px;top:1598px;font-size:16px">...</div>

<div class="a" style="left:2194px;top:1207px;width:121px;height:257px;background:#a9c6f0;border-radius:6px"></div>
<div class="t c sf" style="left:2255px;top:1326px;font-size:27px;font-weight:bold">Multimodal</div>
<div class="t c sf" style="left:2255px;top:1352px;font-size:27px;font-weight:bold">LLM</div>
<div class="a" style="left:2194px;top:1518px;width:121px;height:62px;background:#b2cdc9;border-radius:6px"></div>
<div class="t c sf" style="left:2255px;top:1537px;font-size:25px;font-weight:bold">Image</div>
<div class="t c sf" style="left:2255px;top:1563px;font-size:25px;font-weight:bold">Encoder</div>

<div class="ob" style="left:2363px;top:1207px;width:214px;height:58px;background:#f2f6fc;border:2px solid #cfdcf0;color:#b4bcca"><b>S.1 Output:</b><br><i>{“Action”: “click”, “position”:</i><br><i>“&lt;|POS|&gt;”, “value”: “”}</i></div>
<div class="ob" style="left:2363px;top:1275px;width:214px;height:56px;background:#8d6ddc;color:#fff"><b>S.2 Output:</b><br><i>{“Action”: “click”, “position”:</i><br><i>“<span style="color:#ffe14d">&lt;|POS|&gt;</span>”, “value”: “”}</i></div>
<div class="ob" style="left:2363px;top:1340px;width:214px;height:57px;background:#f2f6fc;border:2px solid #cfdcf0;color:#b4bcca"><b>S.3 Output:</b> <i>{“Action”: “type</i><br><i>text”, “position”: “”, “value”:</i><br><i>“iPhone power adapter”}</i></div>
<div class="ob" style="left:2363px;top:1406px;width:214px;height:58px;background:#f2f6fc;border:2px solid #cfdcf0;color:#b4bcca"><b>S.4 Output:</b><br><i>{“Action”: “click”, “position”:</i><br><i>“&lt;|POS|&gt;”, “value”: “”}</i></div>
<div class="a" style="left:2420px;top:1478px;width:18px;height:18px;background:#7ab0e8"></div>
<div class="a" style="left:2428px;top:1486px;width:22px;height:20px;background:#4a90d9;opacity:.9"></div>
<div class="t l sf" style="left:2465px;top:1494px;font-size:16px;font-style:italic">Embeddings of <b>&lt;|POS|&gt;</b></div>
<div class="a" style="left:2363px;top:1518px;width:214px;height:62px;background:#ffe599;border-radius:8px"></div>
<div class="t c sf" style="left:2470px;top:1549px;font-size:28px;font-weight:bold">Decoder</div>

<div class="t l sf" style="left:2635px;top:1210px;font-size:22px;font-weight:bold;font-style:italic">Visualization of Grounding Results:</div>
<div class="a" style="left:2635px;top:1225px;width:356px;height:42px;background:#fff;border:2px solid #777;overflow:hidden">
 <div class="t l" style="left:34px;top:18px;font-size:9px;color:#444">Pods &nbsp;&nbsp;&nbsp;&nbsp; TV &amp; Home &nbsp;&nbsp;&nbsp;&nbsp; Entertainment</div>
 <div class="b" style="left:183px;top:6px;width:48px;height:17px;background:#fcd8d8;border:2px solid #e02020"></div>
 <div class="t l" style="left:186px;top:15px;font-size:8px;color:#444">Accessories</div>
 <div class="t l" style="left:248px;top:18px;font-size:9px;color:#444">Support &nbsp;&nbsp;&nbsp; &#9675; &nbsp;&nbsp; &#9633;</div>
 <div class="sl">S.1</div>
</div>
<div class="a" style="left:2635px;top:1281px;width:356px;height:89px;background:#fff;border:3px solid #8a6ad8;overflow:hidden">
 <div class="b" style="left:0;top:0;width:356px;height:22px;background:#f4f4f6"></div>
 <div class="b" style="left:140px;top:3px;width:22px;height:22px;background:#f0e040;border-radius:4px"></div><div class="b" style="left:180px;top:0;width:22px;height:12px;background:#555"></div><div class="b" style="left:210px;top:3px;width:22px;height:24px;background:#3040a0;border-radius:4px"></div><div class="b" style="left:250px;top:0;width:24px;height:8px;background:#888"></div>
 <div class="t c" style="left:176px;top:46px;font-size:9px;color:#333">Find the accessories you’re looking for.</div>
 <div class="b" style="left:93px;top:59px;width:150px;height:14px;background:#f8c4c4;border:2px solid #e03030"></div>
 <div class="b" style="left:340px;top:0;width:10px;height:83px;background:#ddd"></div>
 <div class="sl">S.2</div>
</div>
<div class="a" style="left:2635px;top:1389px;width:28px;height:27px;background:#666"></div>
<div class="t c sf" style="left:2649px;top:1402px;font-size:19px;font-weight:bold;font-style:italic;color:#fff">S.3</div>
<div class="t l sf" style="left:2668px;top:1402px;font-size:20px;font-style:italic">No grounding is required for the typing action</div>
<div class="a" style="left:2635px;top:1429px;width:356px;height:165px;background:#fff;border:2px solid #777;overflow:hidden">
 <div class="b" style="left:8px;top:34px;width:40px;height:120px;background:repeating-linear-gradient(0deg,#bbb 0 2px,transparent 2px 9px)"></div>
 <div class="b" style="left:60px;top:18px;width:1px;height:140px;background:#ddd"></div>
 <div class="b" style="left:80px;top:36px;width:38px;height:56px;background:#f3f3f3;border:1px solid #d8d8d8;border-radius:4px"></div>
 <div class="b" style="left:90px;top:20px;width:4px;height:18px;background:#ccc"></div><div class="b" style="left:104px;top:20px;width:4px;height:18px;background:#ccc"></div>
 <div class="b" style="left:160px;top:40px;width:50px;height:50px;border:4px solid #e2e2e2;border-radius:50%"></div>
 <div class="b" style="left:250px;top:40px;width:50px;height:50px;border:4px solid #e2e2e2;border-radius:50%"></div>
 <div class="b" style="left:60px;top:138px;width:85px;height:12px;background:#f8c4c4;border:2px solid #e03030"></div>
 <div class="ln" style="left:165px;top:143px;width:50px;height:2px;background:#bbb"></div><div class="ln" style="left:255px;top:143px;width:50px;height:2px;background:#bbb"></div>
 <div class="sl">S.4</div>
</div>
<div class="t c" style="left:2823px;top:1598px;font-size:16px">...</div>

<div class="p" style="left:1663px;top:1630px"><b>Integrate the Grounding Model with MLLM as a GUI agent.</b> The proposed agent integrates an MLLM</div>
<div class="p" style="left:1663px;top:1665px">with a trained GUI grounding model. MLLM processes textual inputs (user goals, action history) and</div>
<div class="p" style="left:1663px;top:1700px">visual inputs (GUI screenshot) to generate a response. A special token |&lt;POS&gt;| triggers GUI grounding.</div>
<div class="p" style="left:1663px;top:1735px">The image encoder extracts visual features, then the lightweight decoder predicts the target GUI</div>
<div class="p" style="left:1663px;top:1770px">element's position. The figure illustrates the process of task completion and highlights the step 2.</div>
<div class="p" style="left:1663px;top:1841px">Training objective: combine language modelling loss and bbox regression:</div>
<div class="t c sf" style="left:2319px;top:1927px;font-size:46px"><i>ℒ</i> = <i>λ</i><sub>text</sub><i>ℒ</i><sub>text</sub> + <i>λ</i><sub>grd</sub><i>ℒ</i><sub>grd</sub></div>

<!-- ===== CONNECTORS ===== -->
<svg class="a" style="left:0;top:0;pointer-events:none" width="4000" height="2000">
 <defs>
  <marker id="ak" viewBox="0 0 10 10" refX="8" refY="5" markerWidth="4" markerHeight="4" orient="auto"><path d="M0,0 L10,5 L0,10 Z" fill="#111"/></marker>
  <marker id="ag" viewBox="0 0 10 10" refX="8" refY="5" markerWidth="5" markerHeight="5" orient="auto"><path d="M0,1 L10,5 L0,9" fill="none" stroke="#444" stroke-width="1.6"/></marker>
 </defs>
 <g stroke="#111" stroke-width="3" marker-end="url(#ak)">
  <line x1="713" y1="881" x2="713" y2="906"/><line x1="713" y1="975" x2="713" y2="1001"/>
  <line x1="1247" y1="873" x2="1247" y2="904"/><line x1="1247" y1="953" x2="1247" y2="986"/>
 </g>
 <path d="M1131,837 L1142,837 L1142,831 L1153,841 L1142,851 L1142,845 L1131,845 Z" fill="#111"/>
 <path d="M1355,1008 L1366,1008 L1366,1002 L1377,1012 L1366,1022 L1366,1016 L1355,1016 Z" fill="#111"/>
 <g stroke="#444" stroke-width="2" fill="none" marker-end="url(#ag)">
  <line x1="2104" y1="582" x2="2133" y2="582"/><line x1="2311" y1="582" x2="2342" y2="582"/><line x1="2412" y1="582" x2="2500" y2="582"/>
  <line x1="2545" y1="492" x2="2545" y2="472"/><line x1="2587" y1="492" x2="2587" y2="472"/><line x1="2628" y1="492" x2="2628" y2="472"/><line x1="2670" y1="492" x2="2670" y2="472"/>
  <line x1="2545" y1="667" x2="2545" y2="647"/><line x1="2587" y1="667" x2="2587" y2="647"/><line x1="2628" y1="667" x2="2628" y2="647"/><line x1="2670" y1="667" x2="2670" y2="647"/>
  <line x1="2546" y1="731" x2="2546" y2="710"/>
  <line x1="2704" y1="455" x2="2731" y2="455"/>
  <polyline points="2211,801 2546,801 2546,777"/>
  <line x1="2156" y1="1237" x2="2189" y2="1237"/><line x1="2156" y1="1377" x2="2189" y2="1377"/><line x1="2156" y1="1551" x2="2189" y2="1551"/>
  <line x1="2322" y1="1304" x2="2355" y2="1304"/><line x1="2322" y1="1551" x2="2355" y2="1551"/>
  <line x1="2393" y1="1474" x2="2393" y2="1511"/>
  <polyline points="2583,1548 2606,1548 2606,1327 2629,1327"/>
 </g>
</svg>

<!-- ===== PANEL 3: Results ===== -->
<div class="a" style="left:3457px;top:381px;width:8px;height:2px;background:#555"></div>
<div class="a" style="left:3486px;top:381px;width:8px;height:2px;background:#555"></div>
<!-- table 1 -->
<div class="rule" style="left:3081px;top:395px;width:881px;height:3px"></div>
<div class="rule" style="left:3081px;top:460px;width:881px;height:2px"></div>
<div class="rule" style="left:3081px;top:575px;width:881px;height:2px;background:#555"></div>
<div class="rule" style="left:3081px;top:685px;width:881px;height:3px"></div>
<div class="rw" style="top:429px"><span class="t l s" style="left:3096px">Method</span><span class="t c s" style="left:3273px">GUI.S</span><span class="t r s" style="left:3441px">Model size</span><span class="t c s" style="left:3925px;font-weight:bold">Avg.</span></div>
<div class="rw" style="top:416px"><span class="t c s" style="left:3528px">Mobile</span><span class="t c s" style="left:3671px">Desktop</span><span class="t c s" style="left:3816px">Web</span></div>
<div class="rw" style="top:443px"><span class="t c s" style="left:3492px">Text</span><span class="t c s" style="left:3563px">Icon</span><span class="t c s" style="left:3635px">Text</span><span class="t c s" style="left:3708px">Icon</span><span class="t c s" style="left:3779px">Text</span><span class="t c s" style="left:3852px">Icon</span></div>
<div class="rw" style="top:480px"><span class="t l s" style="left:3096px">MiniGPTv2</span><span class="t c x" style="left:3273px">✗</span><span class="t r s" style="left:3441px">7B</span><span class="t r s" style="left:3513px">8.4</span><span class="t r s" style="left:3586px">6.6</span><span class="t r s" style="left:3657px">6.2</span><span class="t r s" style="left:3729px">2.9</span><span class="t r s" style="left:3802px">6.5</span><span class="t r s" style="left:3873px">3.4</span><span class="t r s" style="left:3948px">5.7</span></div>
<div class="rw" style="top:506px"><span class="t l s" style="left:3096px">Qwen-VL</span><span class="t c x" style="left:3273px">✗</span><span class="t r s" style="left:3441px">9.6B</span><span class="t r s" style="left:3513px">9.5</span><span class="t r s" style="left:3586px">4.8</span><span class="t r s" style="left:3657px">5.7</span><span class="t r s" style="left:3729px">5.0</span><span class="t r s" style="left:3802px">3.5</span><span class="t r s" style="left:3873px">2.4</span><span class="t r s" style="left:3948px">5.2</span></div>
<div class="rw" style="top:533px"><span class="t l s" style="left:3096px">Phi-3.5-V</span><span class="t c x" style="left:3273px">✗</span><span class="t r s" style="left:3441px">4.2B</span><span class="t r s" style="left:3513px">1.7</span><span class="t r s" style="left:3586px">1.7</span><span class="t r s" style="left:3657px">4.1</span><span class="t r s" style="left:3729px">0.7</span><span class="t r s" style="left:3802px">4.7</span><span class="t r s" style="left:3873px">2.0</span><span class="t r s" style="left:3948px">2.5</span></div>
<div class="rw" style="top:559px"><span class="t l s" style="left:3096px">GPT-4V</span><span class="t c x" style="left:3273px">✗</span><span class="t r s" style="left:3441px">-</span><span class="t r s" style="left:3513px">22.6</span><span class="t r s" style="left:3586px">24.5</span><span class="t r s" style="left:3657px">20.2</span><span class="t r s" style="left:3729px">11.8</span><span class="t r s" style="left:3802px">9.2</span><span class="t r s" style="left:3873px">8.8</span><span class="t r s" style="left:3948px">16.2</span></div>
<div class="rw" style="top:587px"><span class="t l s" style="left:3096px">Fuyu</span><span class="t c ok" style="left:3273px">✓</span><span class="t r s" style="left:3441px">8B</span><span class="t r s" style="left:3513px">41.0</span><span class="t r s" style="left:3586px">1.3</span><span class="t r s" style="left:3657px">33.0</span><span class="t r s" style="left:3729px">3.6</span><span class="t r s" style="left:3802px">33.9</span><span class="t r s" style="left:3873px">4.4</span><span class="t r s" style="left:3948px">19.5</span></div>
<div class="rw" style="top:613px"><span class="t l s" style="left:3096px">CogAgent</span><span class="t c ok" style="left:3273px">✓</span><span class="t r s" style="left:3441px">18B</span><span class="t r s" style="left:3513px">67.0</span><span class="t r s" style="left:3586px">24.0</span><span class="t r s" style="left:3657px">74.2</span><span class="t r s" style="left:3729px">20.0</span><span class="t r s" style="left:3802px">70.4</span><span class="t r s" style="left:3873px">28.6</span><span class="t r s" style="left:3948px">47.4</span></div>
<div class="rw" style="top:639px"><span class="t l s" style="left:3096px">SeeClick</span><span class="t c ok" style="left:3273px">✓</span><span class="t r s" style="left:3441px">9.6B</span><span class="t r s" style="left:3513px">78.0</span><span class="t r s" style="left:3586px">52.0</span><span class="t r s" style="left:3657px">72.2</span><span class="t r s" style="left:3729px">30.0</span><span class="t r s" style="left:3802px">55.7</span><span class="t r s" style="left:3873px">32.5</span><span class="t r s" style="left:3948px">53.4</span></div>
<div class="rw" style="top:666px;font-weight:bold"><span class="t l s" style="left:3096px;font-weight:normal">A<span style="font-size:.78em">GG</span> (Ours)</span><span class="t c ok" style="left:3273px">✓</span><span class="t r s" style="left:3441px;font-weight:normal">0.4B</span><span class="t r s" style="left:3513px">86.1</span><span class="t r s" style="left:3586px">62.8</span><span class="t r s" style="left:3657px">81.8</span><span class="t r s" style="left:3729px">46.2</span><span class="t r s" style="left:3802px">74.2</span><span class="t r s" style="left:3873px">48.4</span><span class="t r s" style="left:3948px">66.6</span></div>
<div class="t c" style="left:3522px;top:721px;font-size:30px;font-weight:bold">Grounding on ScreenSpot.</div>

<!-- table 2 AITW -->
<div class="a" style="left:3095px;top:873px;width:857px;height:68px;background:#e8e8e8"></div>
<div class="rule" style="left:3095px;top:832px;width:857px;height:3px"></div>
<div class="rule" style="left:3095px;top:865px;width:857px;height:2px;background:#555"></div>
<div class="rule" style="left:3095px;top:943px;width:857px;height:3px;background:#555"></div>
<div class="rule" style="left:3095px;top:1024px;width:857px;height:3px"></div>
<div class="rw" style="top:850px"><span class="t l u" style="left:3098px">Method</span><span class="t l u" style="left:3291px">Modality General Install GoogleApps Single WebShopping Overall ClickAcc</span></div>
<div class="rw" style="top:883px"><span class="t l u" style="left:3098px">ChatGPT-CoT</span><span class="t c u" style="left:3328px">Text</span><span class="t c u" style="left:3405px">5.9</span><span class="t c u" style="left:3472px">4.4</span><span class="t c u" style="left:3557px">10.5</span><span class="t c u" style="left:3642px">9.4</span><span class="t c u" style="left:3735px">8.4</span><span class="t c u" style="left:3832px">7.7</span><span class="t c u" style="left:3909px">-</span></div>
<div class="rw" style="top:906px"><span class="t l u" style="left:3098px">PaLM2-CoT</span><span class="t c u" style="left:3328px">Text</span><span class="t c u" style="left:3405px">-</span><span class="t c u" style="left:3472px">-</span><span class="t c u" style="left:3557px">-</span><span class="t c u" style="left:3642px">-</span><span class="t c u" style="left:3735px">-</span><span class="t c u" style="left:3832px">39.6</span><span class="t c u" style="left:3909px">-</span></div>
<div class="rw" style="top:928px"><span class="t l u" style="left:3098px">GPT-4V</span><span class="t c u" style="left:3328px">Image</span><span class="t c u" style="left:3405px">41.7</span><span class="t c u" style="left:3472px">42.6</span><span class="t c u" style="left:3557px">49.8</span><span class="t c u" style="left:3642px;font-weight:bold">72.8</span><span class="t c u" style="left:3735px">45.7</span><span class="t c u" style="left:3832px">50.5</span><span class="t c u" style="left:3909px">-</span></div>
<div class="rw" style="top:962px"><span class="t l u" style="left:3098px">Qwen-VL</span><span class="t c u" style="left:3328px">Image</span><span class="t c u" style="left:3405px">49.5</span><span class="t c u" style="left:3472px">59.9</span><span class="t c u" style="left:3557px">46.9</span><span class="t c u" style="left:3642px">64.7</span><span class="t c u" style="left:3735px">50.7</span><span class="t c u" style="left:3832px">54.3</span><span class="t c u" style="left:3909px">57.3</span></div>
<div class="rw" style="top:985px"><span class="t l u" style="left:3098px">SeeClick</span><span class="t c u" style="left:3328px">Image</span><span class="t c u" style="left:3405px">54.0</span><span class="t c u" style="left:3472px">66.4</span><span class="t c u" style="left:3557px">54.9</span><span class="t c u" style="left:3642px">63.5</span><span class="t c u" style="left:3735px">57.6</span><span class="t c u" style="left:3832px">59.3</span><span class="t c u" style="left:3909px">66.4</span></div>
<div class="rw" style="top:1007px;font-weight:bold"><span class="t l u" style="left:3098px;font-weight:normal">MLLM ∘ A<span style="font-size:.78em">GG</span> (Ours)</span><span class="t c u" style="left:3328px;font-weight:normal">Image</span><span class="t c u" style="left:3405px">56.4</span><span class="t c u" style="left:3472px">67.8</span><span class="t c u" style="left:3557px">56.6</span><span class="t c u" style="left:3642px;font-weight:normal">67.2</span><span class="t c u" style="left:3735px">63.1</span><span class="t c u" style="left:3832px">62.2</span><span class="t c u" style="left:3909px">68.1</span></div>
<div class="t c" style="left:3522px;top:1062px;font-size:30px;font-weight:bold">Agent Task Performance on AITW.</div>

<!-- table 3 Mind2Web -->
<div class="a" style="left:3095px;top:1246px;width:853px;height:89px;background:#e8e8e8"></div>
<div class="rule" style="left:3095px;top:1174px;width:853px;height:3px"></div>
<div class="rule" style="left:3318px;top:1206px;width:630px;height:1.5px"></div>
<div class="rule" style="left:3095px;top:1239px;width:853px;height:2px;background:#555"></div>
<div class="rule" style="left:3095px;top:1336px;width:853px;height:2px;background:#555"></div>
<div class="rule" style="left:3095px;top:1474px;width:853px;height:3px"></div>
<div class="rw" style="top:1201px"><span class="t l u" style="left:3098px">Method</span><span class="t c u" style="left:3301px">PT</span></div>
<div class="rw" style="top:1191px;font-weight:bold"><span class="t c u" style="left:3423px">Cross-Task</span><span class="t c u" style="left:3633px">Cross-Website</span><span class="t c u" style="left:3843px">Cross-Domain</span></div>
<div class="rw" style="top:1223px"><span class="t c u" style="left:3355px">Ele.Acc</span><span class="t c u" style="left:3422px">Op.F1</span><span class="t c u" style="left:3490px">Step.SR</span><span class="t c u" style="left:3565px">Ele.Acc</span><span class="t c u" style="left:3631px">Op.F1</span><span class="t c u" style="left:3700px">Step.SR</span><span class="t c u" style="left:3774px">Ele.Acc</span><span class="t c u" style="left:3841px">Op.F1</span><span class="t c u" style="left:3909px">Step.SR</span></div>
<div class="rw" style="top:1256px"><span class="t l u" style="left:3098px">MindAct (Gen)</span><span class="t c u" style="left:3301px">–</span><span class="t c u" style="left:3355px">20.2</span><span class="t c u" style="left:3422px">52.0</span><span class="t c u" style="left:3490px">17.5</span><span class="t c u" style="left:3565px">13.9</span><span class="t c u" style="left:3631px">44.7</span><span class="t c u" style="left:3700px">11.0</span><span class="t c u" style="left:3774px">14.2</span><span class="t c u" style="left:3841px">44.7</span><span class="t c u" style="left:3909px">11.9</span></div>
<div class="rw" style="top:1279px"><span class="t l u" style="left:3098px">MindAct</span><span class="t c u" style="left:3301px">–</span><span class="t c u" style="left:3355px">55.1</span><span class="t c u" style="left:3422px">75.7</span><span class="t c u" style="left:3490px">52.0</span><span class="t c u" style="left:3565px">42.0</span><span class="t c u" style="left:3631px">65.2</span><span class="t c u" style="left:3700px">38.9</span><span class="t c u" style="left:3774px">42.1</span><span class="t c u" style="left:3841px">66.5</span><span class="t c u" style="left:3909px">39.6</span></div>
<div class="rw" style="top:1301px"><span class="t l u" style="left:3098px">GPT-3.5-Turbo</span><span class="t c u" style="left:3301px">–</span><span class="t c u" style="left:3355px">20.3</span><span class="t c u" style="left:3422px">56.6</span><span class="t c u" style="left:3490px">17.4</span><span class="t c u" style="left:3565px">19.3</span><span class="t c u" style="left:3631px">48.8</span><span class="t c u" style="left:3700px">16.2</span><span class="t c u" style="left:3774px">21.6</span><span class="t c u" style="left:3841px">52.8</span><span class="t c u" style="left:3909px">18.6</span></div>
<div class="rw" style="top:1324px"><span class="t l u" style="left:3098px">GPT-4</span><span class="t c u" style="left:3301px">–</span><span class="t c u" style="left:3355px">41.6</span><span class="t c u" style="left:3422px">60.6</span><span class="t c u" style="left:3490px">36.2</span><span class="t c u" style="left:3565px">35.8</span><span class="t c u" style="left:3631px">51.1</span><span class="t c u" style="left:3700px">30.1</span><span class="t c u" style="left:3774px">37.1</span><span class="t c u" style="left:3841px">46.5</span><span class="t c u" style="left:3909px">26.4</span></div>
<div class="rw" style="top:1346px"><span class="t l u" style="left:3098px">SoM</span><span class="t c x" style="left:3301px;font-size:18px">✗</span><span class="t c u" style="left:3355px">29.4</span><span class="t c u" style="left:3422px">67.5</span><span class="t c u" style="left:3490px">22.6</span><span class="t c u" style="left:3565px">19.4</span><span class="t c u" style="left:3631px">54.2</span><span class="t c u" style="left:3700px">20.7</span><span class="t c u" style="left:3774px">23.8</span><span class="t c u" style="left:3841px">60.3</span><span class="t c u" style="left:3909px">24.2</span></div>
<div class="rw" style="top:1369px"><span class="t l u" style="left:3098px">SeeAct(Anno)</span><span class="t c x" style="left:3301px;font-size:18px">✗</span><span class="t c u" style="left:3355px">-</span><span class="t c u" style="left:3422px">-</span><span class="t c u" style="left:3490px">20.3</span><span class="t c u" style="left:3565px">-</span><span class="t c u" style="left:3631px">-</span><span class="t c u" style="left:3700px">13.9</span><span class="t c u" style="left:3774px">-</span><span class="t c u" style="left:3841px">-</span><span class="t c u" style="left:3909px">23.7</span></div>
<div class="rw" style="top:1391px"><span class="t l u" style="left:3098px">SeeAct(Choice)</span><span class="t c x" style="left:3301px;font-size:18px">✗</span><span class="t c u" style="left:3355px">46.4</span><span class="t c u" style="left:3422px">73.4</span><span class="t c u" style="left:3490px">40.2</span><span class="t c u" style="left:3565px">38.0</span><span class="t c u" style="left:3631px">67.8</span><span class="t c u" style="left:3700px">32.4</span><span class="t c u" style="left:3774px">42.4</span><span class="t c u" style="left:3841px">69.3</span><span class="t c u" style="left:3909px">36.8</span></div>
<div class="rw" style="top:1414px"><span class="t l u" style="left:3098px">Qwen-VL</span><span class="t c x" style="left:3301px;font-size:18px">✗</span><span class="t c u" style="left:3355px">15.9</span><span class="t c u" style="left:3422px">86.7</span><span class="t c u" style="left:3490px">13.3</span><span class="t c u" style="left:3565px">13.2</span><span class="t c u" style="left:3631px">83.5</span><span class="t c u" style="left:3700px">9.2</span><span class="t c u" style="left:3774px">14.1</span><span class="t c u" style="left:3841px">84.3</span><span class="t c u" style="left:3909px">12.0</span></div>
<div class="rw" style="top:1436px"><span class="t l u" style="left:3098px">SeeClick</span><span class="t c ok" style="left:3301px;font-size:18px">✓</span><span class="t c u" style="left:3355px">28.3</span><span class="t c u" style="left:3422px">87.0</span><span class="t c u" style="left:3490px">25.5</span><span class="t c u" style="left:3565px">21.4</span><span class="t c u" style="left:3631px">80.6</span><span class="t c u" style="left:3700px">16.4</span><span class="t c u" style="left:3774px">23.2</span><span class="t c u" style="left:3841px">84.8</span><span class="t c u" style="left:3909px">20.8</span></div>
<div class="rw" style="top:1458px;font-weight:bold"><span class="t l u" style="left:3098px;font-weight:normal">MLLM ∘ A<span style="font-size:.78em">GG</span> (Ours)</span><span class="t c ok" style="left:3301px;font-size:18px">✓</span><span class="t c u" style="left:3355px">41.2</span><span class="t c u" style="left:3422px">87.4</span><span class="t c u" style="left:3490px">36.8</span><span class="t c u" style="left:3565px">39.2</span><span class="t c u" style="left:3631px">84.8</span><span class="t c u" style="left:3700px">33.8</span><span class="t c u" style="left:3774px">38.9</span><span class="t c u" style="left:3841px">85.2</span><span class="t c u" style="left:3909px">34.2</span></div>
<div class="t c" style="left:3522px;top:1512px;font-size:30px;font-weight:bold">Agent Task Performance on Mind2Web.</div>

<!-- ablation tables -->
<div class="a" style="left:3082px;top:1777px;width:355px;height:22px;background:#e3e5f8"></div>
<div class="rule" style="left:3082px;top:1663px;width:355px;height:2.5px"></div>
<div class="rule" style="left:3323px;top:1640px;width:1px;height:160px"></div>
<div class="rw" style="top:1652px"><span class="t l v" style="left:3090px">Model Var</span><span class="t c v" style="left:3380px">avg. ele.acc</span></div>
<div class="rw" style="top:1675px"><span class="t l v" style="left:3090px">Qwen-VL</span><span class="t c v" style="left:3380px">14.4</span></div>
<div class="rw" style="top:1697px"><span class="t l v" style="left:3090px">Qwen-VL ∘ A<span style="font-size:.78em">GG</span></span><span class="t c v" style="left:3380px">27.4</span></div>
<div class="rw" style="top:1719px"><span class="t l v" style="left:3090px">Qwen-VL(SC data)</span><span class="t c v" style="left:3380px">24.3</span></div>
<div class="rw" style="top:1742px"><span class="t l v" style="left:3090px">Qwen-VL(SC data) ∘ A<span style="font-size:.78em">GG</span></span><span class="t c v" style="left:3380px">35.2</span></div>
<div class="rw" style="top:1764px"><span class="t l v" style="left:3090px">Qwen-VL(our data)</span><span class="t c v" style="left:3380px">30.7</span></div>
<div class="rw" style="top:1787px"><span class="t l v" style="left:3090px">Qwen-VL(our data) ∘ A<span style="font-size:.78em">GG</span></span><span class="t c v" style="left:3380px">39.8</span></div>

<div class="a" style="left:3477px;top:1775px;width:244px;height:22px;background:#e3e5f8"></div>
<div class="rule" style="left:3477px;top:1665px;width:244px;height:2.5px"></div>
<div class="rule" style="left:3668px;top:1643px;width:1px;height:155px"></div>
<div class="rw" style="top:1653px"><span class="t l v" style="left:3486px">Training config</span><span class="t l v" style="left:3678px">avg.</span></div>
<div class="rw" style="top:1676px"><span class="t l v" style="left:3486px">#1. Random init, Full</span><span class="t l v" style="left:3678px">41.1</span></div>
<div class="rw" style="top:1698px"><span class="t l v" style="left:3486px">#2. SAM init, Lora</span><span class="t l v" style="left:3678px">46.8</span></div>
<div class="rw" style="top:1720px"><span class="t l v" style="left:3486px">#3. prop min</span><span class="t l v" style="left:3678px">47.3</span></div>
<div class="rw" style="top:1741px"><span class="t l v" style="left:3486px">#4. prop max</span><span class="t l v" style="left:3678px">48.6</span></div>
<div class="rw" style="top:1762px"><span class="t l v" style="left:3486px">#5. w/o aug</span><span class="t l v" style="left:3678px">44.5</span></div>
<div class="rw" style="top:1784px"><span class="t l v" style="left:3486px">#6. <i>default</i></span><span class="t l v" style="left:3678px">49.2</span></div>

<div class="a" style="left:3765px;top:1720px;width:193px;height:22px;background:#e3e5f8"></div>
<div class="rule" style="left:3765px;top:1675px;width:193px;height:2.5px"></div>
<div class="rule" style="left:3903px;top:1652px;width:1px;height:140px"></div>
<div class="rw" style="top:1663px"><span class="t c v" style="left:3834px"># prompt emb.</span><span class="t l v" style="left:3912px">avg.</span></div>
<div class="rw" style="top:1686px"><span class="t c v" style="left:3834px">1</span><span class="t l v" style="left:3913px">46.2</span></div>
<div class="rw" style="top:1708px"><span class="t c v" style="left:3834px">2</span><span class="t l v" style="left:3913px">48.4</span></div>
<div class="rw" style="top:1730px"><span class="t c v" style="left:3834px">3</span><span class="t l v" style="left:3913px">49.2</span></div>
<div class="rw" style="top:1752px"><span class="t c v" style="left:3834px">4</span><span class="t l v" style="left:3913px">49.0</span></div>
<div class="rw" style="top:1774px"><span class="t c v" style="left:3834px">5</span><span class="t l v" style="left:3913px">49.8</span></div>

<div class="p j" style="left:3107px;top:1813px;width:833px"><b>Ablation on Model Design,</b> including different data for GUI</div>
<div class="p j" style="left:3107px;top:1848px;width:833px">grounding training, different training configurations for GUI</div>
<div class="p j" style="left:3107px;top:1883px;width:833px">grounding training, and the number of prompt embedding used</div>
<div class="p" style="left:3107px;top:1918px">for decode bounding box.</div>

</body></html>
